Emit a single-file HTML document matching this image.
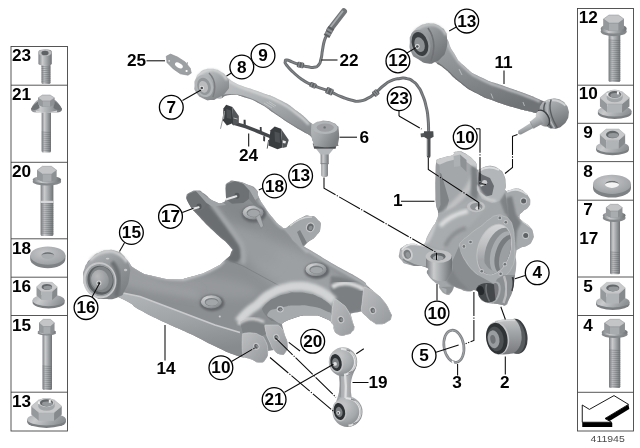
<!DOCTYPE html>
<html><head><meta charset="utf-8"><title>Rear axle parts diagram</title>
<style>
html,body{margin:0;padding:0;background:#fff;}
body{width:640px;height:448px;overflow:hidden;font-family:"Liberation Sans",sans-serif;}
svg{display:block;}
svg text{font-family:"Liberation Sans",sans-serif;}
.b{font-weight:bold;font-size:15.8px;fill:#000;}
</style></head><body>
<svg width="640" height="448" viewBox="0 0 640 448"><defs>
<linearGradient id="cylH" x1="0" x2="1" y1="0" y2="0">
 <stop offset="0" stop-color="#7d8083"/><stop offset="0.3" stop-color="#c9cbcd"/><stop offset="0.6" stop-color="#a4a7a9"/><stop offset="1" stop-color="#6f7275"/>
</linearGradient>
<linearGradient id="flG" x1="0" x2="1" y1="0" y2="0.3"><stop offset="0" stop-color="#a9acae"/><stop offset="0.35" stop-color="#c9cbcd"/><stop offset="1" stop-color="#8f9295"/></linearGradient>
<radialGradient id="washG" cx="0.4" cy="0.35" r="0.8">
 <stop offset="0" stop-color="#c4c6c8"/><stop offset="1" stop-color="#96999c"/>
</radialGradient>

<filter id="b05" x="-20%" y="-20%" width="140%" height="140%"><feGaussianBlur stdDeviation="0.5"/></filter>
<filter id="b1" x="-20%" y="-20%" width="140%" height="140%"><feGaussianBlur stdDeviation="1"/></filter>
<filter id="b15" x="-20%" y="-20%" width="140%" height="140%"><feGaussianBlur stdDeviation="1.5"/></filter>
<filter id="b3" x="-30%" y="-30%" width="160%" height="160%"><feGaussianBlur stdDeviation="3"/></filter>
<filter id="b4" x="-30%" y="-30%" width="160%" height="160%"><feGaussianBlur stdDeviation="4"/></filter>
<filter id="b6" x="-40%" y="-40%" width="180%" height="180%"><feGaussianBlur stdDeviation="6"/></filter>
<radialGradient id="bossG" cx="0.3" cy="0.25" r="0.95"><stop offset="0" stop-color="#d0d2d3"/><stop offset="0.55" stop-color="#a6a9ab"/><stop offset="1" stop-color="#74777a"/></radialGradient>
<linearGradient id="ffG" x1="0" y1="0" x2="0.25" y2="1"><stop offset="0" stop-color="#b4b7b9"/><stop offset="0.5" stop-color="#a1a4a7"/><stop offset="1" stop-color="#888b8e"/></linearGradient>
<linearGradient id="tabG" x1="0" y1="0" x2="1" y2="1"><stop offset="0" stop-color="#bcbec0"/><stop offset="1" stop-color="#96999c"/></linearGradient>
<linearGradient id="bushBody" x1="0" y1="0" x2="0.6" y2="1"><stop offset="0" stop-color="#b9bbbd"/><stop offset="0.5" stop-color="#96999c"/><stop offset="1" stop-color="#7d8083"/></linearGradient>
<radialGradient id="sleeveG" cx="0.4" cy="0.3" r="0.8"><stop offset="0" stop-color="#b7b9bb"/><stop offset="1" stop-color="#8a8d90"/></radialGradient>

<linearGradient id="uaG" x1="0" y1="0" x2="0.35" y2="1"><stop offset="0" stop-color="#c2c4c6"/><stop offset="0.45" stop-color="#aeb1b3"/><stop offset="1" stop-color="#8b8e91"/></linearGradient>
<linearGradient id="a11G" x1="0" y1="0" x2="0.3" y2="1"><stop offset="0" stop-color="#a6a9ab"/><stop offset="0.5" stop-color="#8b8e91"/><stop offset="1" stop-color="#707376"/></linearGradient>
<linearGradient id="ubush2G" x1="0" y1="0" x2="0.7" y2="1"><stop offset="0" stop-color="#b4b7b9"/><stop offset="0.5" stop-color="#8f9295"/><stop offset="1" stop-color="#707376"/></linearGradient>
<linearGradient id="ubushG" x1="0" y1="0" x2="0.7" y2="1"><stop offset="0" stop-color="#c9cbcd"/><stop offset="0.5" stop-color="#a6a9ab"/><stop offset="1" stop-color="#808386"/></linearGradient>
<linearGradient id="bjG" x1="0" y1="0" x2="1" y2="0.6"><stop offset="0" stop-color="#b9bbbd"/><stop offset="0.5" stop-color="#a3a6a8"/><stop offset="1" stop-color="#7b7e81"/></linearGradient>
<linearGradient id="bj11G" x1="0.2" y1="0" x2="0.6" y2="1"><stop offset="0" stop-color="#b7b9bb"/><stop offset="0.45" stop-color="#96999c"/><stop offset="1" stop-color="#6f7275"/></linearGradient>
<radialGradient id="eyeG" cx="0.35" cy="0.3" r="0.8"><stop offset="0" stop-color="#c6c8ca"/><stop offset="0.6" stop-color="#a6a9ab"/><stop offset="1" stop-color="#7d8083"/></radialGradient>
<linearGradient id="studG" x1="0" y1="0" x2="0.45" y2="1"><stop offset="0" stop-color="#d9dadb"/><stop offset="0.5" stop-color="#b1b4b6"/><stop offset="1" stop-color="#808386"/></linearGradient>
<linearGradient id="boreG" x1="0" y1="0" x2="0.2" y2="1"><stop offset="0" stop-color="#d6d8d9"/><stop offset="0.45" stop-color="#c0c2c4"/><stop offset="1" stop-color="#8f9295"/></linearGradient>
<linearGradient id="linkG" x1="0" y1="0" x2="1" y2="0"><stop offset="0" stop-color="#9a9da0"/><stop offset="0.5" stop-color="#b9bbbd"/><stop offset="1" stop-color="#808386"/></linearGradient>
<linearGradient id="b2G" x1="0" y1="0" x2="0" y2="1"><stop offset="0" stop-color="#c3c5c7"/><stop offset="0.35" stop-color="#a4a7a9"/><stop offset="1" stop-color="#77797c"/></linearGradient>
</defs><rect width="640" height="448" fill="#fff"/><g fill="none" stroke="#444" stroke-width="0.9"><rect x="11" y="46.5" width="56.5" height="384.5"/><line x1="11" x2="67.5" y1="85.2" y2="85.2"/><line x1="11" x2="67.5" y1="162.3" y2="162.3"/><line x1="11" x2="67.5" y1="238.8" y2="238.8"/><line x1="11" x2="67.5" y1="277.2" y2="277.2"/><line x1="11" x2="67.5" y1="315.5" y2="315.5"/><line x1="11" x2="67.5" y1="392.2" y2="392.2"/><rect x="577.5" y="8.5" width="56" height="422.5"/><line x1="577.5" x2="633.5" y1="85.2" y2="85.2"/><line x1="577.5" x2="633.5" y1="123.3" y2="123.3"/><line x1="577.5" x2="633.5" y1="161.6" y2="161.6"/><line x1="577.5" x2="633.5" y1="200.2" y2="200.2"/><line x1="577.5" x2="633.5" y1="277" y2="277"/><line x1="577.5" x2="633.5" y1="315.5" y2="315.5"/><line x1="577.5" x2="633.5" y1="392.3" y2="392.3"/></g><clipPath id="armClip"><path d="M85.00,276.00 C84.67,269.00 83.67,272.17 86.00,266.00 C88.33,259.83 87.33,262.07 92.00,257.50 C96.67,252.93 94.67,254.63 100.00,252.30 C105.33,249.97 102.33,250.83 108.00,250.50 C113.67,250.17 112.00,249.80 117.00,251.30 C122.00,252.80 119.50,251.93 123.00,255.00 C126.50,258.07 122.67,255.40 127.50,260.50 C132.33,265.60 128.33,264.97 137.50,270.30 C146.67,275.63 142.50,273.60 155.00,276.50 C167.50,279.40 162.67,279.00 175.00,279.00 C187.33,279.00 179.50,279.92 192.00,276.50 C204.50,273.08 201.50,274.25 212.50,268.75 C223.50,263.25 218.83,265.42 225.00,260.00 C231.17,254.58 229.50,257.17 231.00,252.50 C232.50,247.83 234.83,252.67 229.50,246.00 C224.17,239.33 224.83,242.00 215.00,232.50 C205.17,223.00 208.67,227.00 200.00,217.50 C191.33,208.00 193.50,211.17 189.00,204.00 C184.50,196.83 186.50,196.00 186.50,196.00 C186.50,196.00 185.83,194.33 189.50,192.50 C193.17,190.67 192.67,190.17 197.50,190.50 C202.33,190.83 198.58,190.00 204.00,193.50 C209.42,197.00 207.42,198.00 213.75,201.00 C220.08,204.00 218.92,203.83 223.00,202.50 C227.08,201.17 226.00,197.00 226.00,197.00 C226.00,197.00 225.50,185.00 225.50,185.00 C225.50,185.00 225.83,183.33 229.00,182.00 C232.17,180.67 228.83,180.17 235.00,181.00 C241.17,181.83 240.42,181.67 247.50,184.50 C254.58,187.33 252.50,185.33 256.25,189.50 C260.00,193.67 255.83,191.00 258.75,197.00 C261.67,203.00 260.42,200.67 265.00,207.50 C269.58,214.33 267.50,211.50 272.50,217.50 C277.50,223.50 275.50,222.00 280.00,225.50 C284.50,229.00 282.67,228.17 286.00,228.00 C289.33,227.83 285.00,228.33 290.00,225.00 C295.00,221.67 294.33,221.00 301.00,218.00 C307.67,215.00 304.50,215.50 310.00,216.00 C315.50,216.50 314.00,215.83 317.50,219.50 C321.00,223.17 321.00,221.50 320.50,227.00 C320.00,232.50 320.33,230.83 316.00,236.00 C311.67,241.17 311.50,238.83 307.50,242.50 C303.50,246.17 304.00,247.00 304.00,247.00 C304.00,247.00 299.67,244.00 310.00,250.00 C320.33,256.00 318.33,255.33 335.00,265.00 C351.67,274.67 349.17,272.00 360.00,279.00 C370.83,286.00 362.50,281.50 367.50,286.00 C372.50,290.50 369.57,287.50 375.00,292.50 C380.43,297.50 378.70,294.50 383.80,301.00 C388.90,307.50 387.77,306.67 390.30,312.00 C392.83,317.33 392.17,313.83 391.40,317.00 C390.63,320.17 391.97,319.07 388.00,321.50 C384.03,323.93 384.57,324.13 379.50,324.30 C374.43,324.47 377.20,324.57 372.80,322.00 C368.40,319.43 370.07,320.10 366.30,316.60 C362.53,313.10 361.50,311.50 361.50,311.50 C361.50,311.50 350.50,313.50 350.50,313.50 C350.50,313.50 351.83,318.27 353.10,323.10 C354.37,327.93 354.60,325.20 354.30,328.00 C354.00,330.80 354.47,329.30 352.20,331.50 C349.93,333.70 352.23,333.57 347.50,334.60 C342.77,335.63 342.70,337.13 338.00,334.60 C333.30,332.07 333.40,327.00 333.40,327.00 C333.40,327.00 335.30,326.87 332.50,324.00 C329.70,321.13 332.50,321.20 325.00,318.40 C317.50,315.60 320.63,315.60 310.00,315.60 C299.37,315.60 302.47,315.60 293.10,318.40 C283.73,321.20 281.90,324.00 281.90,324.00 C281.90,324.00 282.83,327.82 284.70,334.40 C286.57,340.98 287.20,337.82 287.50,343.75 C287.80,349.68 288.10,348.62 285.60,352.20 C283.10,355.78 283.87,355.23 280.00,354.50 C276.13,353.77 274.00,350.00 274.00,350.00 C274.00,350.00 268.00,351.00 268.00,351.00 C268.00,351.00 268.87,354.92 266.00,358.75 C263.13,362.58 264.73,362.42 259.40,362.50 C254.07,362.58 258.13,361.50 250.00,359.00 C241.87,356.50 246.67,359.25 235.00,355.00 C223.33,350.75 230.00,353.33 215.00,346.25 C200.00,339.17 206.67,341.67 190.00,333.75 C173.33,325.83 181.67,330.42 165.00,322.50 C148.33,314.58 151.67,316.50 140.00,310.00 C128.33,303.50 137.33,307.33 130.00,303.00 C122.67,298.67 118.00,297.00 118.00,297.00 C118.00,297.00 113.00,299.33 105.00,299.00 C97.00,298.67 100.00,300.00 94.00,296.00 C88.00,292.00 90.00,293.67 87.00,287.00 C84.00,280.33 85.33,283.00 85.00,276.00 Z"/></clipPath><path d="M85.00,276.00 C84.67,269.00 83.67,272.17 86.00,266.00 C88.33,259.83 87.33,262.07 92.00,257.50 C96.67,252.93 94.67,254.63 100.00,252.30 C105.33,249.97 102.33,250.83 108.00,250.50 C113.67,250.17 112.00,249.80 117.00,251.30 C122.00,252.80 119.50,251.93 123.00,255.00 C126.50,258.07 122.67,255.40 127.50,260.50 C132.33,265.60 128.33,264.97 137.50,270.30 C146.67,275.63 142.50,273.60 155.00,276.50 C167.50,279.40 162.67,279.00 175.00,279.00 C187.33,279.00 179.50,279.92 192.00,276.50 C204.50,273.08 201.50,274.25 212.50,268.75 C223.50,263.25 218.83,265.42 225.00,260.00 C231.17,254.58 229.50,257.17 231.00,252.50 C232.50,247.83 234.83,252.67 229.50,246.00 C224.17,239.33 224.83,242.00 215.00,232.50 C205.17,223.00 208.67,227.00 200.00,217.50 C191.33,208.00 193.50,211.17 189.00,204.00 C184.50,196.83 186.50,196.00 186.50,196.00 C186.50,196.00 185.83,194.33 189.50,192.50 C193.17,190.67 192.67,190.17 197.50,190.50 C202.33,190.83 198.58,190.00 204.00,193.50 C209.42,197.00 207.42,198.00 213.75,201.00 C220.08,204.00 218.92,203.83 223.00,202.50 C227.08,201.17 226.00,197.00 226.00,197.00 C226.00,197.00 225.50,185.00 225.50,185.00 C225.50,185.00 225.83,183.33 229.00,182.00 C232.17,180.67 228.83,180.17 235.00,181.00 C241.17,181.83 240.42,181.67 247.50,184.50 C254.58,187.33 252.50,185.33 256.25,189.50 C260.00,193.67 255.83,191.00 258.75,197.00 C261.67,203.00 260.42,200.67 265.00,207.50 C269.58,214.33 267.50,211.50 272.50,217.50 C277.50,223.50 275.50,222.00 280.00,225.50 C284.50,229.00 282.67,228.17 286.00,228.00 C289.33,227.83 285.00,228.33 290.00,225.00 C295.00,221.67 294.33,221.00 301.00,218.00 C307.67,215.00 304.50,215.50 310.00,216.00 C315.50,216.50 314.00,215.83 317.50,219.50 C321.00,223.17 321.00,221.50 320.50,227.00 C320.00,232.50 320.33,230.83 316.00,236.00 C311.67,241.17 311.50,238.83 307.50,242.50 C303.50,246.17 304.00,247.00 304.00,247.00 C304.00,247.00 299.67,244.00 310.00,250.00 C320.33,256.00 318.33,255.33 335.00,265.00 C351.67,274.67 349.17,272.00 360.00,279.00 C370.83,286.00 362.50,281.50 367.50,286.00 C372.50,290.50 369.57,287.50 375.00,292.50 C380.43,297.50 378.70,294.50 383.80,301.00 C388.90,307.50 387.77,306.67 390.30,312.00 C392.83,317.33 392.17,313.83 391.40,317.00 C390.63,320.17 391.97,319.07 388.00,321.50 C384.03,323.93 384.57,324.13 379.50,324.30 C374.43,324.47 377.20,324.57 372.80,322.00 C368.40,319.43 370.07,320.10 366.30,316.60 C362.53,313.10 361.50,311.50 361.50,311.50 C361.50,311.50 350.50,313.50 350.50,313.50 C350.50,313.50 351.83,318.27 353.10,323.10 C354.37,327.93 354.60,325.20 354.30,328.00 C354.00,330.80 354.47,329.30 352.20,331.50 C349.93,333.70 352.23,333.57 347.50,334.60 C342.77,335.63 342.70,337.13 338.00,334.60 C333.30,332.07 333.40,327.00 333.40,327.00 C333.40,327.00 335.30,326.87 332.50,324.00 C329.70,321.13 332.50,321.20 325.00,318.40 C317.50,315.60 320.63,315.60 310.00,315.60 C299.37,315.60 302.47,315.60 293.10,318.40 C283.73,321.20 281.90,324.00 281.90,324.00 C281.90,324.00 282.83,327.82 284.70,334.40 C286.57,340.98 287.20,337.82 287.50,343.75 C287.80,349.68 288.10,348.62 285.60,352.20 C283.10,355.78 283.87,355.23 280.00,354.50 C276.13,353.77 274.00,350.00 274.00,350.00 C274.00,350.00 268.00,351.00 268.00,351.00 C268.00,351.00 268.87,354.92 266.00,358.75 C263.13,362.58 264.73,362.42 259.40,362.50 C254.07,362.58 258.13,361.50 250.00,359.00 C241.87,356.50 246.67,359.25 235.00,355.00 C223.33,350.75 230.00,353.33 215.00,346.25 C200.00,339.17 206.67,341.67 190.00,333.75 C173.33,325.83 181.67,330.42 165.00,322.50 C148.33,314.58 151.67,316.50 140.00,310.00 C128.33,303.50 137.33,307.33 130.00,303.00 C122.67,298.67 118.00,297.00 118.00,297.00 C118.00,297.00 113.00,299.33 105.00,299.00 C97.00,298.67 100.00,300.00 94.00,296.00 C88.00,292.00 90.00,293.67 87.00,287.00 C84.00,280.33 85.33,283.00 85.00,276.00 Z" fill="#8c8f92"/><g clip-path="url(#armClip)"><ellipse cx="300" cy="275" rx="55" ry="22" transform="rotate(28 300 275)" fill="#9da0a3" filter="url(#b6)"/><ellipse cx="252" cy="245" rx="30" ry="14" transform="rotate(35 252 245)" fill="#999c9f" filter="url(#b6)"/><ellipse cx="215" cy="287" rx="45" ry="10" transform="rotate(8 215 287)" fill="#96999c" filter="url(#b4)"/><ellipse cx="240" cy="212" rx="24" ry="9" transform="rotate(35 240 212)" fill="#85888b" filter="url(#b4)"/><path d="M189.00,204.00 C189.67,211.17 191.33,208.00 200.00,217.50 C208.67,227.00 205.17,223.00 215.00,232.50 C224.83,242.00 224.00,239.33 229.50,246.00 C235.00,252.67 232.00,248.50 231.50,252.50 C231.00,256.50 227.50,254.83 228.00,258.00 C228.50,261.17 229.33,261.33 233.00,262.00 C236.67,262.67 236.33,263.00 239.00,260.00 C241.67,257.00 241.17,258.67 241.00,253.00 C240.83,247.33 243.83,252.67 238.50,243.00 C233.17,233.33 234.50,237.50 225.00,224.00 C215.50,210.50 219.00,211.83 210.00,202.50 C201.00,193.17 205.00,195.50 198.00,196.00 C191.00,196.50 188.33,196.83 189.00,204.00 Z" fill="#6b6e71" filter="url(#b1)"/><path d="M212,204 Q228,224 241.5,244 Q245,254 243,264" fill="none" stroke="#a3a6a9" stroke-width="5" filter="url(#b15)"/><path d="M259.00,199.00 C261.17,202.17 260.83,202.00 265.50,208.50 C270.17,215.00 268.00,212.50 273.00,218.50 C278.00,224.50 275.83,222.67 280.50,226.50 C285.17,230.33 279.17,222.50 287.00,230.00 C294.83,237.50 296.33,241.67 304.00,249.00 C311.67,256.33 299.67,246.00 310.00,252.00 C320.33,258.00 318.33,257.33 335.00,267.00 C351.67,276.67 349.33,274.33 360.00,281.00 C370.67,287.67 364.67,285.00 367.00,287.00" fill="none" stroke="#b4b7b9" stroke-width="2.6" filter="url(#b1)"/><path d="M127.50,260.50 C130.83,263.77 128.33,264.97 137.50,270.30 C146.67,275.63 142.50,273.60 155.00,276.50 C167.50,279.40 162.67,279.00 175.00,279.00 C187.33,279.00 179.50,279.92 192.00,276.50 C204.50,273.08 201.83,274.08 212.50,268.75 C223.17,263.42 220.17,263.25 224.00,260.50" fill="none" stroke="#bcbec0" stroke-width="4" filter="url(#b1)"/><path d="M118.00,292.00 L140.00,296.50 L165.00,306.00 L190.00,315.50 L215.00,325.00 L240.00,332.50 L243.00,334.00 L243.00,358.00 L235.00,356.00 L215.00,347.00 L190.00,334.50 L165.00,323.50 L140.00,311.00 L128.00,303.00 L118.00,298.00 Z" fill="url(#ffG)"/><path d="M118,292 L140,296.5 L165,306 L190,315.5 L215,325 L240,332.5" fill="none" stroke="#c9cbcd" stroke-width="1.6" filter="url(#b05)"/><path d="M127,262 L160,279 L200,290 L200,300 L150,292 L122,285 Z" fill="#9b9ea1" filter="url(#b3)"/><path d="M224,258 L243,266 L300,297" fill="none" stroke="#74777a" stroke-width="0.6"/><path d="M331,276 Q350,277 364,287 L363,310 L350,313 L335,302 Q328,290 331,276 Z" fill="#7c7f82" filter="url(#b1)"/><path d="M332,287 Q346,278.5 364,289.5" fill="none" stroke="#d6d8d9" stroke-width="4.5" filter="url(#b1)"/><path d="M238.50,322.00 C241.33,318.83 240.67,318.33 247.00,312.50 C253.33,306.67 251.83,309.23 257.50,304.50 C263.17,299.77 258.37,302.53 264.00,298.30 C269.63,294.07 267.40,295.23 274.40,291.80 C281.40,288.37 277.50,289.87 285.00,288.00 C292.50,286.13 288.90,286.47 296.90,286.20 C304.90,285.93 301.50,285.63 309.00,287.20 C316.50,288.77 313.40,288.13 319.40,290.90 C325.40,293.67 322.13,292.13 327.00,295.50 C331.87,298.87 331.67,299.17 334.00,301.00" fill="none" stroke="#d2d4d5" stroke-width="9" filter="url(#b15)"/><path d="M262.00,309.00 C262.00,309.00 263.33,305.87 268.00,302.00 C272.67,298.13 270.00,300.07 276.00,297.40 C282.00,294.73 279.00,295.60 286.00,294.00 C293.00,292.40 289.67,292.73 297.00,292.60 C304.33,292.47 301.17,292.33 308.00,293.60 C314.83,294.87 311.83,294.07 317.50,296.40 C323.17,298.73 320.33,297.23 325.00,300.60 C329.67,303.97 331.50,306.50 331.50,306.50 C331.50,306.50 333.40,327.00 333.40,327.00 C333.40,327.00 335.30,326.87 332.50,324.00 C329.70,321.13 332.50,321.20 325.00,318.40 C317.50,315.60 320.63,315.60 310.00,315.60 C299.37,315.60 302.47,315.60 293.10,318.40 C283.73,321.20 281.90,324.00 281.90,324.00 C281.90,324.00 280.63,324.00 276.00,322.00 C271.37,320.00 272.67,322.33 268.00,318.00 C263.33,313.67 262.00,309.00 262.00,309.00 Z" fill="#7f8285" filter="url(#b05)"/><path d="M268.00,313.00 C270.67,308.83 272.33,310.00 282.00,307.50 C291.67,305.00 287.00,305.83 297.00,305.50 C307.00,305.17 302.33,304.67 312.00,306.50 C321.67,308.33 319.33,307.83 326.00,311.00 C332.67,314.17 329.53,310.67 332.00,316.00 C334.47,321.33 333.40,327.00 333.40,327.00 C333.40,327.00 335.30,326.87 332.50,324.00 C329.70,321.13 332.50,321.20 325.00,318.40 C317.50,315.60 320.63,315.60 310.00,315.60 C299.37,315.60 302.47,315.60 293.10,318.40 C283.73,321.20 281.90,324.00 281.90,324.00 C281.90,324.00 278.63,323.67 274.00,320.00 C269.37,316.33 265.33,317.17 268.00,313.00 Z" fill="#a7aaac"/><g transform="rotate(0 280.2 309.3)"><ellipse cx="280.2" cy="309.3" rx="3.5" ry="3.3" fill="#c3c5c7"/><ellipse cx="280.2" cy="309.3" rx="2.3" ry="2.1" fill="#66696c"/><ellipse cx="280.7" cy="309.8" rx="1.38" ry="1.26" fill="#8d9093"/></g><path d="M334.40,298.75 C334.40,298.75 336.63,299.25 341.00,303.00 C345.37,306.75 343.47,303.30 347.50,310.00 C351.53,316.70 350.83,317.10 353.10,323.10 C355.37,329.10 354.60,325.20 354.30,328.00 C354.00,330.80 354.47,329.30 352.20,331.50 C349.93,333.70 352.23,333.57 347.50,334.60 C342.77,335.63 342.70,337.13 338.00,334.60 C333.30,332.07 335.47,333.53 333.40,327.00 C331.33,320.47 331.47,324.42 331.80,315.00 C332.13,305.58 334.40,298.75 334.40,298.75 Z" fill="url(#tabG)" stroke="#d0d2d3" stroke-width="0.7"/><g transform="rotate(-20 340.9 319.6)"><ellipse cx="340.9" cy="319.6" rx="3.4000000000000004" ry="3.8" fill="#c3c5c7"/><ellipse cx="340.9" cy="319.6" rx="2.2" ry="2.6" fill="#66696c"/><ellipse cx="341.4" cy="320.1" rx="1.32" ry="1.56" fill="#8d9093"/></g><path d="M364.00,287.00 C364.00,287.00 368.40,287.83 375.00,292.50 C381.60,297.17 378.70,294.50 383.80,301.00 C388.90,307.50 387.77,306.67 390.30,312.00 C392.83,317.33 392.17,313.83 391.40,317.00 C390.63,320.17 391.97,319.07 388.00,321.50 C384.03,323.93 384.57,324.13 379.50,324.30 C374.43,324.47 377.20,324.57 372.80,322.00 C368.40,319.43 369.93,319.87 366.30,316.60 C362.67,313.33 363.17,317.73 361.90,312.20 C360.63,306.67 361.80,308.40 362.50,300.00 C363.20,291.60 364.00,287.00 364.00,287.00 Z" fill="url(#tabG)" stroke="#d0d2d3" stroke-width="0.7"/><g transform="rotate(-20 372.8 310.4)"><ellipse cx="372.8" cy="310.4" rx="3.4000000000000004" ry="3.8" fill="#c3c5c7"/><ellipse cx="372.8" cy="310.4" rx="2.2" ry="2.6" fill="#66696c"/><ellipse cx="373.3" cy="310.9" rx="1.32" ry="1.56" fill="#8d9093"/></g><path d="M278.10,325.00 C278.10,325.00 279.80,325.87 282.00,329.00 C284.20,332.13 282.87,329.48 284.70,334.40 C286.53,339.32 287.20,337.82 287.50,343.75 C287.80,349.68 288.10,348.62 285.60,352.20 C283.10,355.78 283.87,355.23 280.00,354.50 C276.13,353.77 277.33,354.00 274.00,350.00 C270.67,346.00 272.67,348.17 270.00,342.50 C267.33,336.83 267.67,338.83 266.00,333.00 C264.33,327.17 265.00,325.00 265.00,325.00 C265.00,325.00 278.10,325.00 278.10,325.00 Z" fill="url(#tabG)" stroke="#cfd1d2" stroke-width="0.6"/><g transform="rotate(-25 276.3 337.4)"><ellipse cx="276.3" cy="337.4" rx="3.2" ry="3.5999999999999996" fill="#c3c5c7"/><ellipse cx="276.3" cy="337.4" rx="2.0" ry="2.4" fill="#66696c"/><ellipse cx="276.8" cy="337.9" rx="1.2" ry="1.44" fill="#8d9093"/></g><path d="M240,322 Q250,315 263,322 L266,334 L262,336 Q252,330 243,334 Z" fill="#7f8285" filter="url(#b05)"/><path d="M238,324 Q250,314.5 264,322" fill="none" stroke="#cdcfd0" stroke-width="3" filter="url(#b1)"/><path d="M242.50,333.75 C242.50,333.75 246.17,332.42 252.00,333.00 C257.83,333.58 255.67,333.17 260.00,335.50 C264.33,337.83 262.40,334.75 265.00,340.00 C267.60,345.25 267.47,345.00 267.80,351.25 C268.13,357.50 268.80,355.00 266.00,358.75 C263.20,362.50 264.73,362.42 259.40,362.50 C254.07,362.58 254.80,360.67 250.00,359.00 C245.20,357.33 247.50,359.67 245.00,357.50 C242.50,355.33 243.33,360.42 242.50,352.50 C241.67,344.58 242.50,333.75 242.50,333.75 Z" fill="url(#tabG)" stroke="#cfd1d2" stroke-width="0.6"/><g transform="rotate(-25 256.3 346.3)"><ellipse cx="256.3" cy="346.3" rx="3.2" ry="3.5999999999999996" fill="#c3c5c7"/><ellipse cx="256.3" cy="346.3" rx="2.0" ry="2.4" fill="#66696c"/><ellipse cx="256.8" cy="346.8" rx="1.2" ry="1.44" fill="#8d9093"/></g><ellipse cx="253.9" cy="213.79999999999998" rx="12.200000000000001" ry="8.6" fill="#63666a" filter="url(#b1)"/><ellipse cx="253.1" cy="212.6" rx="10.4" ry="7" fill="url(#bossG)"/><ellipse cx="253.4" cy="212.79999999999998" rx="6.864000000000001" ry="4.34" fill="#7e8184"/><ellipse cx="253.7" cy="213.29999999999998" rx="6.032" ry="3.5" fill="#a3a6a8"/><path d="M255.8,217.5 L260.8,228.3 L263.6,226 L259.8,214 Z" fill="#a9acae" stroke="#77797c" stroke-width="0.5"/><ellipse cx="212.10000000000002" cy="303.0" rx="12.3" ry="8.2" fill="#63666a" filter="url(#b1)"/><ellipse cx="211.3" cy="301.8" rx="10.5" ry="6.6" fill="url(#bossG)"/><ellipse cx="211.60000000000002" cy="302.0" rx="6.930000000000001" ry="4.092" fill="#7e8184"/><ellipse cx="211.9" cy="302.5" rx="6.09" ry="3.3" fill="#a3a6a8"/><ellipse cx="316.8" cy="270.7" rx="12.3" ry="8.2" fill="#63666a" filter="url(#b1)"/><ellipse cx="316" cy="269.5" rx="10.5" ry="6.6" fill="url(#bossG)"/><ellipse cx="316.3" cy="269.7" rx="6.930000000000001" ry="4.092" fill="#7e8184"/><ellipse cx="316.6" cy="270.2" rx="6.09" ry="3.3" fill="#a3a6a8"/><circle cx="219.8" cy="316.5" r="1.1" fill="#c9cbcd"/><path d="M186.3,198.2 L188.4,194 L195.5,191.2 L201.1,192.6 L207.4,198.2 L206,204 L203.9,208.75 L198.3,211.6 L190.5,208.75 Z" fill="#6e7174"/><path d="M195.5,190.5 L201.1,192 L207.4,197.6 L214,201 L223,202.5 L226,205 L212,206.5 L206.5,203 Z" fill="#a0a3a6" filter="url(#b05)"/><ellipse cx="199" cy="206.6" rx="2.6" ry="3" fill="#55585b"/><path d="M225,188.4 L227.1,184.1 L234.9,181.3 L243.3,183.4 L249.6,190.5 L248.9,198.9 L243.3,203.1 L232,203.8 L225.7,198.9 Z" fill="#6e7174"/><path d="M234.9,180.6 L243.3,182.8 L252,186.5 L257.4,190.8 L259,197.5 L255,200 L249.6,190.5 L243.3,183.8 Z" fill="#a6a9ab" filter="url(#b05)"/><path d="M249.6,190.5 L255,200 L262,210 L255,206 L248.9,198.9 Z" fill="#808386" filter="url(#b05)"/><ellipse cx="237" cy="195.8" rx="2.6" ry="3" fill="#55585b"/><path d="M286.00,228.00 C286.00,224.33 285.00,228.33 290.00,225.00 C295.00,221.67 294.33,221.00 301.00,218.00 C307.67,215.00 304.50,215.50 310.00,216.00 C315.50,216.50 314.00,215.83 317.50,219.50 C321.00,223.17 321.00,221.50 320.50,227.00 C320.00,232.50 320.33,230.83 316.00,236.00 C311.67,241.17 311.50,238.83 307.50,242.50 C303.50,246.17 307.83,246.83 304.00,247.00 C300.17,247.17 300.67,246.67 296.00,243.00 C291.33,239.33 293.33,241.00 290.00,236.00 C286.67,231.00 286.00,231.67 286.00,228.00 Z" fill="#a4a7aa"/><path d="M290,226 Q300,216.5 312,217" fill="none" stroke="#cfd1d2" stroke-width="1.6" filter="url(#b05)"/><path d="M297,232 L303,246 L307,243 L300,230 Z" fill="#7d8083" filter="url(#b05)"/><g transform="rotate(20 310.3 227.3)"><ellipse cx="310.3" cy="227.3" rx="4.4" ry="5.0" fill="#c3c5c7"/><ellipse cx="310.3" cy="227.3" rx="3.2" ry="3.8" fill="#66696c"/><ellipse cx="310.8" cy="227.8" rx="1.92" ry="2.28" fill="#8d9093"/></g></g><path d="M192.3,209 L198.6,207.2" stroke="#e4e5e6" stroke-width="2.1" stroke-linecap="round"/><path d="M226.5,199.3 L236.3,196.3" stroke="#e4e5e6" stroke-width="2.1" stroke-linecap="round"/><path d="M83.30,277.00 C82.80,270.50 82.93,273.33 84.50,268.50 C86.07,263.67 84.08,267.00 88.00,262.50 C91.92,258.00 90.17,258.97 96.25,255.00 C102.33,251.03 99.58,251.70 106.25,250.60 C112.92,249.50 110.17,249.23 116.25,251.70 C122.33,254.17 120.33,253.57 124.50,258.00 C128.67,262.43 127.08,259.00 128.75,265.00 C130.42,271.00 130.75,267.67 129.50,276.00 C128.25,284.33 128.83,283.00 125.00,290.00 C121.17,297.00 124.67,294.00 118.00,297.00 C111.33,300.00 113.00,299.33 105.00,299.00 C97.00,298.67 100.33,299.67 94.00,296.00 C87.67,292.33 89.57,294.33 86.00,288.00 C82.43,281.67 83.80,283.50 83.30,277.00 Z" fill="url(#bushBody)"/><path d="M90,260 Q99,251 111,251.3 Q121,253 127,262" fill="none" stroke="#d4d6d7" stroke-width="2.6" filter="url(#b1)"/><path d="M112,262 Q123,275 116,296" fill="none" stroke="#6c6f72" stroke-width="4.5" filter="url(#b1)"/><ellipse cx="99.8" cy="280.3" rx="16.6" ry="18.2" transform="rotate(-12 99.8 280.3)" fill="#c6c8ca"/><ellipse cx="100.3" cy="280.2" rx="14.6" ry="16.2" transform="rotate(-12 100.3 280.2)" fill="#9a9da0"/><ellipse cx="100.5" cy="280.2" rx="13" ry="14.6" transform="rotate(-12 100.5 280.2)" fill="#5c5f62"/><ellipse cx="101.3" cy="279.4" rx="11.4" ry="13" transform="rotate(-12 101.3 279.4)" fill="#808386"/><ellipse cx="100" cy="279.8" rx="8.8" ry="10.2" transform="rotate(-12 100 279.8)" fill="url(#sleeveG)"/><circle cx="98.9" cy="283" r="2.5" fill="#d9dbdc"/><circle cx="98.9" cy="283" r="1.5" fill="#4d5053"/><ellipse cx="107.6" cy="258.6" rx="1.8" ry="0.9" fill="#c9cbcd"/><ellipse cx="125.6" cy="270" rx="1.7" ry="1.2" fill="#c3c5c7"/><clipPath id="knClip"><path d="M436.20,162.00 C437.00,156.77 434.97,160.97 437.90,159.30 C440.83,157.63 440.13,158.43 445.00,157.00 C449.87,155.57 449.70,156.50 452.50,155.00 C455.30,153.50 453.40,152.50 453.40,152.50 C453.40,152.50 456.03,151.27 459.40,151.30 C462.77,151.33 460.63,151.27 463.50,152.60 C466.37,153.93 464.80,153.03 468.00,155.30 C471.20,157.57 470.23,156.53 473.10,159.40 C475.97,162.27 475.30,160.70 476.60,163.90 C477.90,167.10 475.87,167.20 477.00,169.00 C478.13,170.80 477.87,169.87 480.00,169.30 C482.13,168.73 480.73,168.40 483.40,167.30 C486.07,166.20 485.13,166.43 488.00,166.00 C490.87,165.57 488.37,165.00 492.00,166.00 C495.63,167.00 494.90,166.00 498.90,169.00 C502.90,172.00 501.70,169.83 504.00,175.00 C506.30,180.17 505.30,179.33 505.80,184.50 C506.30,189.67 504.10,188.67 505.50,190.50 C506.90,192.33 506.47,190.63 510.00,190.00 C513.53,189.37 512.43,188.77 516.10,188.60 C519.77,188.43 518.13,188.27 521.00,189.50 C523.87,190.73 522.20,189.97 524.70,192.30 C527.20,194.63 526.63,193.27 528.50,196.50 C530.37,199.73 530.43,198.33 530.30,202.00 C530.17,205.67 530.53,204.33 528.10,207.50 C525.67,210.67 525.87,208.50 523.00,211.50 C520.13,214.50 519.50,213.17 519.50,216.50 C519.50,219.83 519.67,218.17 523.00,221.50 C526.33,224.83 526.07,222.50 529.50,226.50 C532.93,230.50 532.37,228.83 533.30,233.50 C534.23,238.17 534.23,236.50 532.30,240.50 C530.37,244.50 531.77,242.83 527.50,245.50 C523.23,248.17 523.33,245.67 519.50,248.50 C515.67,251.33 517.08,248.50 516.00,254.00 C514.92,259.50 516.72,257.00 516.25,265.00 C515.78,273.00 515.75,269.67 514.60,278.00 C513.45,286.33 514.67,282.83 512.80,290.00 C510.93,297.17 511.40,294.40 509.00,299.50 C506.60,304.60 508.60,303.60 505.60,305.30 C502.60,307.00 505.00,305.17 500.00,304.60 C495.00,304.03 495.93,304.53 490.60,303.60 C485.27,302.67 487.70,303.83 484.00,301.80 C480.30,299.77 482.07,301.27 479.50,297.50 C476.93,293.73 480.30,292.50 476.30,290.50 C472.30,288.50 472.93,292.00 467.50,291.50 C462.07,291.00 464.58,290.67 460.00,289.00 C455.42,287.33 453.75,286.50 453.75,286.50 C453.75,286.50 453.75,289.83 451.25,292.50 C448.75,295.17 450.00,295.67 446.25,294.50 C442.50,293.33 442.50,292.33 440.00,289.00 C437.50,285.67 440.42,286.67 438.75,284.50 C437.08,282.33 438.75,286.00 435.00,282.50 C431.25,279.00 430.42,279.00 427.50,274.00 C424.58,269.00 432.08,270.50 426.25,267.50 C420.42,264.50 418.33,267.50 410.00,265.00 C401.67,262.50 404.75,264.17 401.25,260.00 C397.75,255.83 398.67,257.08 399.50,252.50 C400.33,247.92 399.42,249.17 403.75,246.25 C408.08,243.33 406.25,244.17 412.50,243.75 C418.75,243.33 417.50,247.58 422.50,245.00 C427.50,242.42 424.33,241.67 427.50,236.00 C430.67,230.33 429.08,233.00 432.00,228.00 C434.92,223.00 434.25,226.17 436.25,221.00 C438.25,215.83 438.00,217.83 438.00,212.50 C438.00,207.17 437.08,211.67 436.25,205.00 C435.42,198.33 435.75,202.50 435.50,192.50 C435.25,182.50 435.27,185.17 435.50,175.00 C435.73,164.83 435.40,167.23 436.20,162.00 Z"/></clipPath><path d="M436.20,162.00 C437.00,156.77 434.97,160.97 437.90,159.30 C440.83,157.63 440.13,158.43 445.00,157.00 C449.87,155.57 449.70,156.50 452.50,155.00 C455.30,153.50 453.40,152.50 453.40,152.50 C453.40,152.50 456.03,151.27 459.40,151.30 C462.77,151.33 460.63,151.27 463.50,152.60 C466.37,153.93 464.80,153.03 468.00,155.30 C471.20,157.57 470.23,156.53 473.10,159.40 C475.97,162.27 475.30,160.70 476.60,163.90 C477.90,167.10 475.87,167.20 477.00,169.00 C478.13,170.80 477.87,169.87 480.00,169.30 C482.13,168.73 480.73,168.40 483.40,167.30 C486.07,166.20 485.13,166.43 488.00,166.00 C490.87,165.57 488.37,165.00 492.00,166.00 C495.63,167.00 494.90,166.00 498.90,169.00 C502.90,172.00 501.70,169.83 504.00,175.00 C506.30,180.17 505.30,179.33 505.80,184.50 C506.30,189.67 504.10,188.67 505.50,190.50 C506.90,192.33 506.47,190.63 510.00,190.00 C513.53,189.37 512.43,188.77 516.10,188.60 C519.77,188.43 518.13,188.27 521.00,189.50 C523.87,190.73 522.20,189.97 524.70,192.30 C527.20,194.63 526.63,193.27 528.50,196.50 C530.37,199.73 530.43,198.33 530.30,202.00 C530.17,205.67 530.53,204.33 528.10,207.50 C525.67,210.67 525.87,208.50 523.00,211.50 C520.13,214.50 519.50,213.17 519.50,216.50 C519.50,219.83 519.67,218.17 523.00,221.50 C526.33,224.83 526.07,222.50 529.50,226.50 C532.93,230.50 532.37,228.83 533.30,233.50 C534.23,238.17 534.23,236.50 532.30,240.50 C530.37,244.50 531.77,242.83 527.50,245.50 C523.23,248.17 523.33,245.67 519.50,248.50 C515.67,251.33 517.08,248.50 516.00,254.00 C514.92,259.50 516.72,257.00 516.25,265.00 C515.78,273.00 515.75,269.67 514.60,278.00 C513.45,286.33 514.67,282.83 512.80,290.00 C510.93,297.17 511.40,294.40 509.00,299.50 C506.60,304.60 508.60,303.60 505.60,305.30 C502.60,307.00 505.00,305.17 500.00,304.60 C495.00,304.03 495.93,304.53 490.60,303.60 C485.27,302.67 487.70,303.83 484.00,301.80 C480.30,299.77 482.07,301.27 479.50,297.50 C476.93,293.73 480.30,292.50 476.30,290.50 C472.30,288.50 472.93,292.00 467.50,291.50 C462.07,291.00 464.58,290.67 460.00,289.00 C455.42,287.33 453.75,286.50 453.75,286.50 C453.75,286.50 453.75,289.83 451.25,292.50 C448.75,295.17 450.00,295.67 446.25,294.50 C442.50,293.33 442.50,292.33 440.00,289.00 C437.50,285.67 440.42,286.67 438.75,284.50 C437.08,282.33 438.75,286.00 435.00,282.50 C431.25,279.00 430.42,279.00 427.50,274.00 C424.58,269.00 432.08,270.50 426.25,267.50 C420.42,264.50 418.33,267.50 410.00,265.00 C401.67,262.50 404.75,264.17 401.25,260.00 C397.75,255.83 398.67,257.08 399.50,252.50 C400.33,247.92 399.42,249.17 403.75,246.25 C408.08,243.33 406.25,244.17 412.50,243.75 C418.75,243.33 417.50,247.58 422.50,245.00 C427.50,242.42 424.33,241.67 427.50,236.00 C430.67,230.33 429.08,233.00 432.00,228.00 C434.92,223.00 434.25,226.17 436.25,221.00 C438.25,215.83 438.00,217.83 438.00,212.50 C438.00,207.17 437.08,211.67 436.25,205.00 C435.42,198.33 435.75,202.50 435.50,192.50 C435.25,182.50 435.27,185.17 435.50,175.00 C435.73,164.83 435.40,167.23 436.20,162.00 Z" fill="#a3a6a8"/><g clip-path="url(#knClip)"><path d="M436,162 L476,164 L476,200 L460,210 L438,214 Z" fill="#a4a7a9"/><path d="M435,163 L438,159 L445,157 L452.5,155 L453.4,152.5 L459.4,151.3 L468,155.3 L473.1,159.4 L477,164 L477,170 L472,166 L466,161.5 L460,158.5 L455,159.5 L447,161.5 L440,164.5 Z" fill="#c9cbcd" filter="url(#b05)"/><path d="M453.6,156 L460,154.6 L460.6,166 L454,167 Z" fill="#aeb1b3"/><path d="M460,154.6 L466.5,160 L466.5,172 L460.6,166 Z" fill="#8f9295"/><path d="M437,170 L441.5,174 L449,200 L446,212 L438,213 L436,205 Z" fill="#808386" filter="url(#b05)"/><path d="M436,162 L439.5,166 L440.5,205 L437,212 L435,200 Z" fill="#999c9f" filter="url(#b05)"/><path d="M476,172 Q470,190 455,203 Q445,212 440,224" fill="none" stroke="#bfc1c3" stroke-width="6" filter="url(#b15)"/><path d="M471,166 L477,168 L479,186 L477,200 L471,196 Z" fill="#7d8083" filter="url(#b1)"/><path d="M478,170 L483.4,167.3 L492,166 L498.9,169 L504,175 L505.8,184.5 L505.5,192 L500,201 L492,203 L482,199 L477,190 Z" fill="#b3b6b8"/><path d="M479,171 Q488,164.5 499,170" fill="none" stroke="#dadcdd" stroke-width="1.8" filter="url(#b05)"/><path d="M478.5,172 L483,175 L490,178 L494,186 L492,195 L486,196.5 L480,192 L477.5,184 Z" fill="#696c6f" filter="url(#b05)"/><path d="M478,186 Q480,196 489,199.5 L496,201" fill="none" stroke="#d2d4d5" stroke-width="2" filter="url(#b1)"/><ellipse cx="484.6" cy="182.3" rx="2.6" ry="2.2" fill="#c9cbcd"/><path d="M480.5,186 L485,184" stroke="#d9dbdc" stroke-width="1.6"/><path d="M500,201 L506,192 L509,206 L511,216 L505,214 Z" fill="#808386" filter="url(#b1)"/><path d="M438,213 Q450,210 462,203 L470,200 L488,206 L470,226 L452,240 L441,250 L426,244 L433,228 Z" fill="#a9acae" filter="url(#b1)"/><path d="M437.5,214 Q437,230 428.5,243 L422.5,245 L431,229 Z" fill="#c6c8ca" filter="url(#b1)"/><path d="M440,226 Q450,215 468,211" fill="none" stroke="#dcdedf" stroke-width="4.5" filter="url(#b15)"/><path d="M445,246 Q452,232 466,228" fill="none" stroke="#8a8d90" stroke-width="4" filter="url(#b15)"/><ellipse cx="476" cy="206.5" rx="9" ry="5.8" fill="#bfc1c3"/><ellipse cx="476.3" cy="206.8" rx="6.2" ry="3.8" fill="#909396"/><ellipse cx="478" cy="208.3" rx="2.6" ry="2" fill="#d9dbdc"/><path d="M505,190 L510,190 L516.1,188.6 L524.7,192.3 L530.3,202 L528.1,207.5 L523,211.5 L519.5,216.5 L523,221.5 L529.5,226.5 L533.3,233.5 L532.3,240.5 L527.5,245.5 L519.5,248.5 L512,240 L508,215 Z" fill="#a6a9ab"/><path d="M507,192 Q517,186.5 527,194.5" fill="none" stroke="#d7d9da" stroke-width="1.8" filter="url(#b05)"/><path d="M506,198 L512,196 L516,214 L521,223 L517,231 L515,250 L509,240 Z" fill="#7c7f82" filter="url(#b1)"/><path d="M519,216 L523,221.8 L530,227" fill="none" stroke="#cfd1d2" stroke-width="1.5" filter="url(#b05)"/><circle cx="523.6" cy="201" r="3.4" fill="#c8cacc"/><circle cx="523.6" cy="201" r="2.5" fill="#5f6265"/><circle cx="525.7" cy="235.5" r="3.4" fill="#c8cacc"/><circle cx="525.7" cy="235.5" r="2.5" fill="#5f6265"/><path d="M497.20,215.30 C502.20,214.30 500.00,215.07 504.00,216.50 C508.00,217.93 506.20,215.77 509.20,219.60 C512.20,223.43 511.27,221.40 513.00,228.00 C514.73,234.60 513.80,232.07 514.40,239.40 C515.00,246.73 514.80,243.13 514.80,250.00 C514.80,256.87 515.50,254.00 514.40,260.00 C513.30,266.00 513.80,263.42 511.50,268.00 C509.20,272.58 511.00,269.92 507.50,273.75 C504.00,277.58 505.58,276.08 501.00,279.50 C496.42,282.92 499.08,283.50 493.75,284.00 C488.42,284.50 490.72,284.42 485.00,281.00 C479.28,277.58 481.43,278.08 476.60,273.75 C471.77,269.42 473.95,272.02 470.50,268.00 C467.05,263.98 469.25,266.37 466.25,261.70 C463.25,257.03 463.78,259.15 461.50,254.00 C459.22,248.85 459.07,250.75 459.40,246.25 C459.73,241.75 459.63,243.92 462.50,240.50 C465.37,237.08 464.00,239.33 468.00,236.00 C472.00,232.67 469.93,233.97 474.50,230.50 C479.07,227.03 476.87,229.27 481.70,225.60 C486.53,221.93 483.83,222.93 489.00,219.50 C494.17,216.07 492.20,216.30 497.20,215.30 Z" fill="#a8abad"/><path d="M497.20,215.30 C502.20,214.30 500.00,215.07 504.00,216.50 C508.00,217.93 506.20,215.77 509.20,219.60 C512.20,223.43 511.27,221.40 513.00,228.00 C514.73,234.60 513.80,232.07 514.40,239.40 C515.00,246.73 514.80,243.13 514.80,250.00 C514.80,256.87 515.50,254.00 514.40,260.00 C513.30,266.00 513.80,263.42 511.50,268.00 C509.20,272.58 511.00,269.92 507.50,273.75 C504.00,277.58 505.58,276.08 501.00,279.50 C496.42,282.92 499.08,283.50 493.75,284.00 C488.42,284.50 490.72,284.42 485.00,281.00 C479.28,277.58 481.43,278.08 476.60,273.75 C471.77,269.42 473.95,272.02 470.50,268.00 C467.05,263.98 469.25,266.37 466.25,261.70 C463.25,257.03 463.78,259.15 461.50,254.00 C459.22,248.85 459.07,250.75 459.40,246.25 C459.73,241.75 459.63,243.92 462.50,240.50 C465.37,237.08 464.00,239.33 468.00,236.00 C472.00,232.67 469.93,233.97 474.50,230.50 C479.07,227.03 476.87,229.27 481.70,225.60 C486.53,221.93 483.83,222.93 489.00,219.50 C494.17,216.07 492.20,216.30 497.20,215.30 Z" fill="none" stroke="#bfc1c3" stroke-width="0.7" filter="url(#b05)"/><path d="M459,246 Q462,262 476,274 L494,284 L490,292 L468,291 L454,286 L452,262 Z" fill="#8a8d90" filter="url(#b05)"/><clipPath id="boreClip"><ellipse cx="494.2" cy="249.5" rx="15.8" ry="25.5" transform="rotate(17 494.2 249.5)"/></clipPath><ellipse cx="494.2" cy="249.5" rx="16.8" ry="26.5" transform="rotate(17 494.2 249.5)" fill="#bfc1c3"/><ellipse cx="494.2" cy="249.5" rx="15.8" ry="25.5" transform="rotate(17 494.2 249.5)" fill="url(#boreG)"/><g clip-path="url(#boreClip)"><ellipse cx="500.5" cy="252" rx="15" ry="25" transform="rotate(17 500.5 252)" fill="#8c8f92"/><ellipse cx="503.5" cy="253" rx="12.5" ry="22.5" transform="rotate(17 503.5 253)" fill="#a9acae"/><ellipse cx="506.5" cy="254.5" rx="11" ry="20.5" transform="rotate(17 506.5 254.5)" fill="#797c7f"/><ellipse cx="509.5" cy="256" rx="9.5" ry="18.5" transform="rotate(17 509.5 256)" fill="#9c9fa2"/><path d="M478,262 Q484,276 496,277 L496,272 Q487,270 482,258 Z" fill="#a3a6a8" filter="url(#b05)"/></g><circle cx="499.8" cy="217.9" r="2.2" fill="#c3c5c7"/><circle cx="499.8" cy="217.9" r="1.3" fill="#707376"/><circle cx="505.8" cy="222.2" r="2.2" fill="#c3c5c7"/><circle cx="505.8" cy="222.2" r="1.3" fill="#707376"/><circle cx="470.5" cy="242" r="2.2" fill="#c3c5c7"/><circle cx="470.5" cy="242" r="1.3" fill="#707376"/><circle cx="463.9" cy="246.4" r="2.2" fill="#c3c5c7"/><circle cx="463.9" cy="246.4" r="1.3" fill="#707376"/><circle cx="504.9" cy="264.3" r="2.2" fill="#c3c5c7"/><circle cx="504.9" cy="264.3" r="1.3" fill="#707376"/><circle cx="500.6" cy="273.75" r="2.2" fill="#c3c5c7"/><circle cx="500.6" cy="273.75" r="1.3" fill="#707376"/><circle cx="481.7" cy="271.2" r="2.2" fill="#c3c5c7"/><circle cx="481.7" cy="271.2" r="1.3" fill="#707376"/><path d="M426,267.5 L410,265 L401.25,260 L399.5,252.5 L403.75,246.25 L412.5,243.75 L422.5,245 L440,250 L452,262 L445,275 Z" fill="#aeb1b3"/><path d="M402,250 Q406,244 414,244 L426,246" fill="none" stroke="#dddfe0" stroke-width="2" filter="url(#b05)"/><path d="M403,259 Q412,266 426,267.5" fill="none" stroke="#85888b" stroke-width="2" filter="url(#b05)"/><ellipse cx="407.3" cy="254.3" rx="5.4" ry="6.6" transform="rotate(-20 407.3 254.3)" fill="#cbcdce"/><ellipse cx="407.3" cy="254.3" rx="3.5" ry="4.5" transform="rotate(-20 407.3 254.3)" fill="#7a7d80"/><ellipse cx="408" cy="255" rx="2.2" ry="3" transform="rotate(-20 408 255)" fill="#94979a"/><path d="M426,257 L426,272 Q433,283 446,281 L452,272 L452,256 Z" fill="url(#cylH)"/><ellipse cx="438.6" cy="256.4" rx="13" ry="6.4" fill="#c0c2c4"/><ellipse cx="438" cy="256.6" rx="7.6" ry="3.9" fill="#696c6f"/><ellipse cx="438.2" cy="258" rx="5.4" ry="2.4" fill="#a0a3a6"/><path d="M436.6,255 L436.6,259" stroke="#e6e7e8" stroke-width="1.6"/><path d="M452,268 Q458,282 470,290 L453,287 L446,281 Z" fill="#808386" filter="url(#b1)"/><path d="M440,287 L453.75,286.5 L451.25,292.5 L446.25,294.5 Z" fill="#8f9295"/><path d="M440,287 L446.5,289 L446.25,294.5 Z" fill="#a9acae"/><path d="M497,279 L504,275 L515,275 L515,284 L512.8,291 L509,299.5 L505.6,305.6 L500,305 L494,303 L492,290 Z" fill="#8d9093"/><path d="M504,276 Q509,290 503.5,303" fill="none" stroke="#b9bbbd" stroke-width="2.4" filter="url(#b05)"/><path d="M512.6,277 Q514.6,284 512.2,291" fill="none" stroke="#3a3d40" stroke-width="2"/><ellipse cx="495" cy="292" rx="5.4" ry="10.6" transform="rotate(14 495 292)" fill="#a9acae"/><ellipse cx="493.6" cy="292.4" rx="4.6" ry="9.6" transform="rotate(14 493.6 292.4)" fill="#77797c"/><path d="M476,289 Q478,284.5 484,283.2 Q490,282.6 494,284.5 L495.5,300 Q491,303.6 485,302 Q479.5,299 476.6,293 Z" fill="#45484b"/><path d="M486.5,284 Q484.5,292 489.5,301.5" fill="none" stroke="#6f7275" stroke-width="1.6" filter="url(#b05)"/><ellipse cx="480.6" cy="290.6" rx="3.4" ry="4.6" transform="rotate(-15 480.6 290.6)" fill="#26292c"/></g><path d="M326.50,36.00 C325.77,37.67 325.63,36.33 324.30,41.00 C322.97,45.67 323.60,44.00 322.50,50.00 C321.40,56.00 322.33,54.00 321.00,59.00 C319.67,64.00 320.83,62.23 318.50,65.00 C316.17,67.77 317.50,66.70 314.00,67.30 C310.50,67.90 311.67,67.30 308.00,66.80 C304.33,66.30 304.67,66.13 303.00,65.80" fill="none" stroke="#6a6d70" stroke-width="3" stroke-linecap="round"/><path d="M326.50,36.00 C325.77,37.67 325.63,36.33 324.30,41.00 C322.97,45.67 323.60,44.00 322.50,50.00 C321.40,56.00 322.33,54.00 321.00,59.00 C319.67,64.00 320.83,62.23 318.50,65.00 C316.17,67.77 317.50,66.70 314.00,67.30 C310.50,67.90 311.67,67.30 308.00,66.80 C304.33,66.30 304.67,66.13 303.00,65.80" fill="none" stroke="#8d9093" stroke-width="0.8" stroke-linecap="round"/><path d="M298.00,64.20 C296.00,63.40 295.67,63.20 292.00,61.80 C288.33,60.40 289.23,60.10 287.00,60.00 C284.77,59.90 285.47,59.83 285.30,61.50 C285.13,63.17 283.93,61.50 286.50,65.00 C289.07,68.50 287.83,67.17 293.00,72.00 C298.17,76.83 296.33,75.50 302.00,79.50 C307.67,83.50 307.33,82.50 310.00,84.00" fill="none" stroke="#6a6d70" stroke-width="3" stroke-linecap="round"/><path d="M298.00,64.20 C296.00,63.40 295.67,63.20 292.00,61.80 C288.33,60.40 289.23,60.10 287.00,60.00 C284.77,59.90 285.47,59.83 285.30,61.50 C285.13,63.17 283.93,61.50 286.50,65.00 C289.07,68.50 287.83,67.17 293.00,72.00 C298.17,76.83 296.33,75.50 302.00,79.50 C307.67,83.50 307.33,82.50 310.00,84.00" fill="none" stroke="#8d9093" stroke-width="0.8" stroke-linecap="round"/><path d="M316.00,86.50 C318.00,87.20 318.17,87.33 322.00,88.60 C325.83,89.87 325.67,89.73 327.50,90.30" fill="none" stroke="#6a6d70" stroke-width="3" stroke-linecap="round"/><path d="M316.00,86.50 C318.00,87.20 318.17,87.33 322.00,88.60 C325.83,89.87 325.67,89.73 327.50,90.30" fill="none" stroke="#8d9093" stroke-width="0.8" stroke-linecap="round"/><path d="M333.00,92.80 C336.00,94.20 335.67,94.50 342.00,97.00 C348.33,99.50 346.00,98.97 352.00,100.30 C358.00,101.63 354.67,101.70 360.00,101.00 C365.33,100.30 363.23,100.60 368.00,98.20 C372.77,95.80 372.20,95.27 374.30,93.80" fill="none" stroke="#6a6d70" stroke-width="3" stroke-linecap="round"/><path d="M333.00,92.80 C336.00,94.20 335.67,94.50 342.00,97.00 C348.33,99.50 346.00,98.97 352.00,100.30 C358.00,101.63 354.67,101.70 360.00,101.00 C365.33,100.30 363.23,100.60 368.00,98.20 C372.77,95.80 372.20,95.27 374.30,93.80" fill="none" stroke="#8d9093" stroke-width="0.8" stroke-linecap="round"/><path d="M378.00,90.60 C380.33,88.57 380.33,87.93 385.00,84.50 C389.67,81.07 387.00,82.33 392.00,80.30 C397.00,78.27 395.00,78.97 400.00,78.40 C405.00,77.83 402.67,77.60 407.00,78.60 C411.33,79.60 409.33,78.77 413.00,81.40 C416.67,84.03 414.83,81.97 418.00,86.50 C421.17,91.03 419.83,88.50 422.50,95.00 C425.17,101.50 424.17,98.33 426.00,106.00 C427.83,113.67 427.13,109.67 428.00,118.00 C428.87,126.33 428.40,126.67 428.60,131.00" fill="none" stroke="#6a6d70" stroke-width="3" stroke-linecap="round"/><path d="M378.00,90.60 C380.33,88.57 380.33,87.93 385.00,84.50 C389.67,81.07 387.00,82.33 392.00,80.30 C397.00,78.27 395.00,78.97 400.00,78.40 C405.00,77.83 402.67,77.60 407.00,78.60 C411.33,79.60 409.33,78.77 413.00,81.40 C416.67,84.03 414.83,81.97 418.00,86.50 C421.17,91.03 419.83,88.50 422.50,95.00 C425.17,101.50 424.17,98.33 426.00,106.00 C427.83,113.67 427.13,109.67 428.00,118.00 C428.87,126.33 428.40,126.67 428.60,131.00" fill="none" stroke="#8d9093" stroke-width="0.8" stroke-linecap="round"/><path d="M343.9,11.4 L329.5,30" stroke="#727578" stroke-width="6.2" stroke-linecap="round"/><path d="M342.6,11.4 L329.5,28.5" stroke="#a6a9ab" stroke-width="1.8" stroke-linecap="round"/><path d="M331.5,27.5 L326.5,36.5" stroke="#5c5f62" stroke-width="6.4"/><path d="M330.3,29.5 L329.3,31.3 M328.5,32.6 L327.5,34.6" stroke="#8f9295" stroke-width="5.8"/><g transform="rotate(12 300.5 65)"><rect x="297.0" y="62.2" width="7" height="5.6" rx="1.2" fill="#5f6265"/><rect x="298.4" y="62.2" width="1.1" height="5.6" fill="#8f9295"/><rect x="301.6" y="62.2" width="1.1" height="5.6" fill="#8f9295"/></g><g transform="rotate(22 313 85.3)"><rect x="309.5" y="82.8" width="7" height="5" rx="1.2" fill="#5f6265"/><rect x="310.9" y="82.8" width="1.1" height="5" fill="#8f9295"/><rect x="314.1" y="82.8" width="1.1" height="5" fill="#8f9295"/></g><g transform="rotate(24 329.5 91.2)"><rect x="325.75" y="87.9" width="7.5" height="6.6" rx="1.2" fill="#5f6265"/><rect x="327.15" y="87.9" width="1.1" height="6.6" fill="#8f9295"/><rect x="330.85" y="87.9" width="1.1" height="6.6" fill="#8f9295"/></g><g transform="rotate(-40 375.8 93)"><rect x="372.8" y="90.0" width="6" height="6" rx="1.2" fill="#5f6265"/><rect x="374.2" y="90.0" width="1.1" height="6" fill="#8f9295"/><rect x="376.40000000000003" y="90.0" width="1.1" height="6" fill="#8f9295"/></g><path d="M424,131.3 L433.3,131.3 L433.6,136.8 L430.5,138.4 L430.5,156 Q430.5,158 428.6,158 Q426.8,158 426.8,156 L426.8,138.4 L423.6,136.8 Z" fill="#4b4e51"/><path d="M427.6,139 L427.6,156" stroke="#8e9194" stroke-width="0.9"/><path d="M420.5,133.5 L424.5,133 L424.5,137 L421,137.3 Z" fill="#55585b"/><clipPath id="uaClip"><path d="M220.00,80.00 C225.42,75.93 221.58,77.03 226.25,77.80 C230.92,78.57 228.58,79.57 234.00,82.30 C239.42,85.03 233.83,82.77 242.50,86.00 C251.17,89.23 247.50,87.33 260.00,92.00 C272.50,96.67 267.50,93.58 280.00,100.00 C292.50,106.42 286.67,103.25 297.50,111.25 C308.33,119.25 305.00,118.42 312.50,124.00 C320.00,129.58 319.50,122.67 320.00,128.00 C320.50,133.33 317.33,137.50 314.00,140.00 C310.67,142.50 313.83,138.42 310.00,135.50 C306.17,132.58 309.17,135.17 302.50,131.25 C295.83,127.33 299.17,129.58 290.00,123.75 C280.83,117.92 285.00,120.42 275.00,113.75 C265.00,107.08 270.00,109.17 260.00,103.75 C250.00,98.33 255.00,100.42 245.00,97.50 C235.00,94.58 239.17,94.67 230.00,95.00 C220.83,95.33 224.17,100.17 217.50,98.50 C210.83,96.83 209.17,96.17 210.00,90.00 C210.83,83.83 214.58,84.07 220.00,80.00 Z"/></clipPath><path d="M220.00,80.00 C225.42,75.93 221.58,77.03 226.25,77.80 C230.92,78.57 228.58,79.57 234.00,82.30 C239.42,85.03 233.83,82.77 242.50,86.00 C251.17,89.23 247.50,87.33 260.00,92.00 C272.50,96.67 267.50,93.58 280.00,100.00 C292.50,106.42 286.67,103.25 297.50,111.25 C308.33,119.25 305.00,118.42 312.50,124.00 C320.00,129.58 319.50,122.67 320.00,128.00 C320.50,133.33 317.33,137.50 314.00,140.00 C310.67,142.50 313.83,138.42 310.00,135.50 C306.17,132.58 309.17,135.17 302.50,131.25 C295.83,127.33 299.17,129.58 290.00,123.75 C280.83,117.92 285.00,120.42 275.00,113.75 C265.00,107.08 270.00,109.17 260.00,103.75 C250.00,98.33 255.00,100.42 245.00,97.50 C235.00,94.58 239.17,94.67 230.00,95.00 C220.83,95.33 224.17,100.17 217.50,98.50 C210.83,96.83 209.17,96.17 210.00,90.00 C210.83,83.83 214.58,84.07 220.00,80.00 Z" fill="url(#uaG)"/><g clip-path="url(#uaClip)"><path d="M228.00,80.50 C230.33,81.77 230.00,81.80 235.00,84.30 C240.00,86.80 234.67,84.77 243.00,88.00 C251.33,91.23 248.00,89.33 260.00,94.00 C272.00,98.67 267.00,95.67 279.00,102.00 C291.00,108.33 286.00,105.50 296.00,113.00 C306.00,120.50 304.67,120.67 309.00,124.50" fill="none" stroke="#d6d8d9" stroke-width="2.2" filter="url(#b1)"/><path d="M222.00,96.50 C225.33,96.17 224.33,95.00 232.00,95.50 C239.67,96.00 235.67,95.00 245.00,98.00 C254.33,101.00 250.00,99.00 260.00,104.50 C270.00,110.00 265.00,107.83 275.00,114.50 C285.00,121.17 280.67,118.67 290.00,124.50 C299.33,130.33 296.00,127.83 303.00,132.00 C310.00,136.17 308.33,135.33 311.00,137.00" fill="none" stroke="#808386" stroke-width="3" filter="url(#b05)"/><path d="M264,103 l8,5 M266.5,102 l8,5 M269,101.5 l7,4.5" stroke="#c9cbcd" stroke-width="0.7"/></g><path d="M194.50,85.00 C194.42,80.17 194.17,82.17 196.00,78.00 C197.83,73.83 197.00,75.33 200.00,72.50 C203.00,69.67 201.67,70.75 205.00,69.50 C208.33,68.25 206.33,68.75 210.00,68.75 C213.67,68.75 212.67,68.67 216.00,69.50 C219.33,70.33 216.58,69.00 220.00,71.25 C223.42,73.50 223.25,72.00 226.25,76.25 C229.25,80.50 229.08,78.75 229.00,84.00 C228.92,89.25 229.83,87.33 226.00,92.00 C222.17,96.67 222.42,95.33 217.50,98.00 C212.58,100.67 215.83,99.75 211.25,100.00 C206.67,100.25 208.75,101.25 203.75,98.75 C198.75,96.25 199.33,97.08 196.25,92.50 C193.17,87.92 194.58,89.83 194.50,85.00 Z" fill="url(#ubushG)"/><path d="M197,77 Q204,68.5 215,70 Q223,72.5 227,80" fill="none" stroke="#dcdedf" stroke-width="2" filter="url(#b1)"/><ellipse cx="204.3" cy="86" rx="8.6" ry="11.2" transform="rotate(-18 204.3 86)" fill="#b2b5b7"/><ellipse cx="204" cy="86.3" rx="6.6" ry="8.8" transform="rotate(-18 204 86.3)" fill="#94979a"/><ellipse cx="203.5" cy="86.8" rx="4.4" ry="6" transform="rotate(-18 203.5 86.8)" fill="#b9bbbd"/><circle cx="201.8" cy="88" r="2.3" fill="#dfe0e1"/><circle cx="201.8" cy="88" r="1.3" fill="#4a4d50"/><path d="M209,73 Q218,82 213,97" fill="none" stroke="#7b7e81" stroke-width="1.5" filter="url(#b05)"/><path d="M320.6,150 L328.7,150 L328.7,163.5 L328,164.5 L328,175 Q328,177 324.6,177 Q321.2,177 321.2,175 L321.2,164.5 L320.6,163.5 Z" fill="url(#cylH)"/><path d="M320.6,163.6 L328.7,163.6" stroke="#808386" stroke-width="0.9"/><path d="M315.8,148.4 L333.8,148.4 L329,154.4 L320.5,154.4 Z" fill="#b4b7b9"/><path d="M312.7,143.6 L336.9,143.6 L335.6,148.8 L314.2,148.8 Z" fill="#4a4d50"/><path d="M314,146.2 L336,146.2" stroke="#7d8083" stroke-width="0.8"/><path d="M311.25,127.00 C311.58,120.83 311.08,125.42 314.00,123.50 C316.92,121.58 316.00,122.15 320.00,121.25 C324.00,120.35 321.83,120.38 326.00,120.80 C330.17,121.22 328.83,120.93 332.50,122.50 C336.17,124.07 334.92,123.00 337.00,125.50 C339.08,128.00 338.32,124.33 338.75,130.00 C339.18,135.67 339.55,137.08 338.30,142.50 C337.05,147.92 341.93,145.00 335.00,146.25 C328.07,147.50 324.83,147.67 317.50,146.25 C310.17,144.83 315.08,148.42 313.00,142.00 C310.92,135.58 310.92,133.17 311.25,127.00 Z" fill="url(#bjG)"/><ellipse cx="325.2" cy="127.8" rx="12.3" ry="6.2" fill="#b3b6b8"/><ellipse cx="325.2" cy="127.6" rx="8.6" ry="4.1" fill="#9d9fa2"/><circle cx="324.6" cy="127.4" r="1.2" fill="#6f7275"/><clipPath id="a11Clip"><path d="M440.00,34.00 C446.13,28.33 441.93,31.93 446.40,38.00 C450.87,44.07 447.30,42.78 453.40,52.20 C459.50,61.62 455.30,57.82 464.70,66.25 C474.10,74.68 468.50,70.92 481.60,77.50 C494.70,84.08 489.95,80.83 504.00,86.00 C518.05,91.17 511.55,88.33 523.75,93.00 C535.95,97.67 532.52,96.33 540.60,100.00 C548.68,103.67 546.53,98.67 548.00,104.00 C549.47,109.33 549.33,113.10 545.00,116.00 C540.67,118.90 544.00,115.23 535.00,112.70 C526.00,110.17 531.13,112.17 518.00,108.40 C504.87,104.63 509.60,106.53 495.60,101.40 C481.60,96.27 488.20,99.57 476.00,93.00 C463.80,86.43 469.33,89.70 459.00,81.70 C448.67,73.70 453.00,75.57 445.00,69.00 C437.00,62.43 440.67,66.67 435.00,62.00 C429.33,57.33 426.33,64.33 428.00,55.00 C429.67,45.67 433.87,39.67 440.00,34.00 Z"/></clipPath><path d="M440.00,34.00 C446.13,28.33 441.93,31.93 446.40,38.00 C450.87,44.07 447.30,42.78 453.40,52.20 C459.50,61.62 455.30,57.82 464.70,66.25 C474.10,74.68 468.50,70.92 481.60,77.50 C494.70,84.08 489.95,80.83 504.00,86.00 C518.05,91.17 511.55,88.33 523.75,93.00 C535.95,97.67 532.52,96.33 540.60,100.00 C548.68,103.67 546.53,98.67 548.00,104.00 C549.47,109.33 549.33,113.10 545.00,116.00 C540.67,118.90 544.00,115.23 535.00,112.70 C526.00,110.17 531.13,112.17 518.00,108.40 C504.87,104.63 509.60,106.53 495.60,101.40 C481.60,96.27 488.20,99.57 476.00,93.00 C463.80,86.43 469.33,89.70 459.00,81.70 C448.67,73.70 453.00,75.57 445.00,69.00 C437.00,62.43 440.67,66.67 435.00,62.00 C429.33,57.33 426.33,64.33 428.00,55.00 C429.67,45.67 433.87,39.67 440.00,34.00 Z" fill="url(#a11G)"/><g clip-path="url(#a11Clip)"><path d="M446.00,41.00 C448.67,45.67 447.50,45.83 454.00,55.00 C460.50,64.17 456.17,60.33 465.50,68.50 C474.83,76.67 469.17,73.00 482.00,79.50 C494.83,86.00 490.00,82.83 504.00,88.00 C518.00,93.17 512.00,90.50 524.00,95.00 C536.00,99.50 534.67,99.33 540.00,101.50" fill="none" stroke="#c9cbcd" stroke-width="2" filter="url(#b1)"/><path d="M437.00,63.50 C440.00,65.83 438.50,64.10 446.00,70.50 C453.50,76.90 449.50,74.87 459.50,82.70 C469.50,90.53 463.97,87.43 476.00,94.00 C488.03,100.57 481.60,97.27 495.60,102.40 C509.60,107.53 504.20,105.53 518.00,109.40 C531.80,113.27 530.67,112.47 537.00,114.00" fill="none" stroke="#6f7275" stroke-width="3" filter="url(#b05)"/><path d="M459,69 l3,6 M491,93.5 l2,5 M523,102 l1.5,4" stroke="#c3c5c7" stroke-width="0.8"/></g><path d="M409.80,41.00 C409.72,35.27 409.60,38.33 411.00,35.00 C412.40,31.67 411.33,33.83 414.00,31.00 C416.67,28.17 415.23,28.83 419.00,26.50 C422.77,24.17 421.30,24.97 425.30,24.00 C429.30,23.03 427.23,23.40 431.00,23.60 C434.77,23.80 433.10,23.30 436.60,24.60 C440.10,25.90 438.70,25.37 441.50,27.50 C444.30,29.63 443.17,27.50 445.00,31.00 C446.83,34.50 446.67,31.67 447.00,38.00 C447.33,44.33 448.00,43.33 446.00,50.00 C444.00,56.67 444.67,54.00 441.00,58.00 C437.33,62.00 439.33,60.20 435.00,62.00 C430.67,63.80 433.57,64.33 428.00,63.40 C422.43,62.47 423.88,62.93 418.30,59.20 C412.72,55.47 414.08,58.27 411.25,52.20 C408.42,46.13 409.88,46.73 409.80,41.00 Z" fill="url(#ubush2G)"/><path d="M413,33 Q421,23.5 433,24.5 Q442,26.5 446,35" fill="none" stroke="#cfd1d2" stroke-width="2" filter="url(#b1)"/><ellipse cx="420.3" cy="43.6" rx="9.8" ry="14.2" transform="rotate(-17 420.3 43.6)" fill="#999c9f"/><ellipse cx="420" cy="44" rx="8" ry="12.2" transform="rotate(-17 420 44)" fill="#3c3f42"/><ellipse cx="419.6" cy="44.6" rx="5" ry="7.6" transform="rotate(-17 419.6 44.6)" fill="#8e9194"/><circle cx="417.3" cy="46.5" r="2.4" fill="#d9dbdc"/><circle cx="417.3" cy="46.5" r="1.3" fill="#4a4d50"/><path d="M428,28 Q438,42 431,61" fill="none" stroke="#6f7275" stroke-width="1.6" filter="url(#b05)"/><path d="M541.50,104.00 C543.63,100.87 542.67,102.33 546.00,100.60 C549.33,98.87 547.83,99.40 551.50,98.80 C555.17,98.20 553.50,98.13 557.00,98.80 C560.50,99.47 559.00,98.87 562.00,100.80 C565.00,102.73 563.90,101.70 566.00,104.60 C568.10,107.50 567.43,106.03 568.30,109.50 C569.17,112.97 569.10,111.33 568.60,115.00 C568.10,118.67 568.67,117.17 566.80,120.50 C564.93,123.83 565.93,122.50 563.00,125.00 C560.07,127.50 561.50,126.80 558.00,128.00 C554.50,129.20 556.00,129.00 552.50,128.60 C549.00,128.20 550.67,128.83 547.50,126.80 C544.33,124.77 545.50,125.77 543.00,122.50 C540.50,119.23 541.13,121.17 540.00,117.00 C538.87,112.83 539.10,114.33 539.60,110.00 C540.10,105.67 539.37,107.13 541.50,104.00 Z" fill="url(#bj11G)"/><path d="M546.5,101.8 Q556,97.6 565.5,105.5" fill="none" stroke="#cfd1d2" stroke-width="2" filter="url(#b05)"/><path d="M545.3,102.5 Q540.5,112 551.5,128" fill="none" stroke="#55585b" stroke-width="1.4"/><path d="M548.3,100.8 Q543.8,111.5 554.6,128.3" fill="none" stroke="#b4b7b9" stroke-width="1.5"/><path d="M551.2,99.6 Q547,111 557.5,128" fill="none" stroke="#5a5d60" stroke-width="1.4"/><ellipse cx="543.5" cy="117.8" rx="5.6" ry="9.2" transform="rotate(-32 543.5 117.8)" fill="#3f4245"/><ellipse cx="542.3" cy="118.6" rx="5.6" ry="8.6" transform="rotate(-32 542.3 118.6)" fill="url(#studG)"/><path d="M538.5,114.8 L543,123.6 L533.8,128.6 L530.2,121.6 Z" fill="url(#studG)"/><path d="M531.2,122.6 L533.8,127.8 L521,134.4 Q519,134.8 518.2,133.2 Q517.6,131.4 519,130.2 Z" fill="url(#studG)"/><path d="M530.2,121.6 L533.8,128.6" stroke="#85888b" stroke-width="0.8"/><path d="M338.5,372 Q340.5,382 339,392 Q337.5,398 336,402 L352,400 Q350.5,392 350.8,384 Q351.5,376 356,368 Z" fill="url(#linkG)"/><ellipse cx="343" cy="361.8" rx="14.2" ry="14.5" fill="url(#eyeG)"/><path d="M341,349.1 A12.2,12.7 0 0 1 344,374.8" fill="none" stroke="#e2e3e4" stroke-width="2" filter="url(#b05)"/><path d="M346.5,349.8 A11.2,12.2 0 0 1 348.5,373.4" fill="none" stroke="#8a8d90" stroke-width="1.4" filter="url(#b05)"/><path d="M350,351.6 A10.2,11.2 0 0 1 351.6,371.0" fill="none" stroke="#d0d2d3" stroke-width="1.3" filter="url(#b05)"/><ellipse cx="336.2" cy="362.3" rx="7" ry="10.4" transform="rotate(-12 336.2 362.3)" fill="#bfc1c3"/><ellipse cx="336.0" cy="362.6" rx="5.6" ry="8.6" transform="rotate(-12 336.0 362.6)" fill="#2e3134"/><ellipse cx="335.7" cy="363.1" rx="3.4" ry="5.2" transform="rotate(-12 335.7 363.1)" fill="#7d8083"/><circle cx="335.0" cy="363.90000000000003" r="1.9" fill="#e0e1e2"/><ellipse cx="347.5" cy="411.8" rx="15" ry="15.3" fill="url(#eyeG)"/><path d="M345.5,398.3 A13,13.5 0 0 1 348.5,425.6" fill="none" stroke="#e2e3e4" stroke-width="2" filter="url(#b05)"/><path d="M351.0,399.0 A12,13 0 0 1 353.0,424.2" fill="none" stroke="#8a8d90" stroke-width="1.4" filter="url(#b05)"/><path d="M354.5,400.8 A11,12 0 0 1 356.1,421.8" fill="none" stroke="#d0d2d3" stroke-width="1.3" filter="url(#b05)"/><ellipse cx="339.6" cy="411.2" rx="7" ry="10.4" transform="rotate(-12 339.6 411.2)" fill="#bfc1c3"/><ellipse cx="339.40000000000003" cy="411.5" rx="5.6" ry="8.6" transform="rotate(-12 339.40000000000003 411.5)" fill="#2e3134"/><ellipse cx="339.1" cy="412.0" rx="3.4" ry="5.2" transform="rotate(-12 339.1 412.0)" fill="#7d8083"/><circle cx="338.40000000000003" cy="412.8" r="1.9" fill="#e0e1e2"/><circle cx="338.2" cy="413" r="0.9" fill="#55585b"/><path d="M345,375 Q346.5,386 345.5,398" fill="none" stroke="#dcdddf" stroke-width="2.2" filter="url(#b05)"/><path d="M340,375 Q341.5,386 340,397" fill="none" stroke="#909396" stroke-width="1.4" filter="url(#b05)"/><ellipse cx="516.6" cy="336.3" rx="10.8" ry="17.6" transform="rotate(-8 516.6 336.3)" fill="#3c3f42"/><ellipse cx="514.6" cy="336.5" rx="10.6" ry="17.4" transform="rotate(-8 514.6 336.5)" fill="#595c5f"/><path d="M495,321 Q505,318.6 515,319.2 Q522.5,327 521.5,340 Q520,350 513,353.6 Q504,355 498,354 Z" fill="url(#b2G)"/><path d="M498,321.3 Q506,319.6 515,320.4" fill="none" stroke="#d4d6d7" stroke-width="1.8" filter="url(#b05)"/><ellipse cx="497.6" cy="338.2" rx="11.4" ry="16.6" transform="rotate(-10 497.6 338.2)" fill="#c3c5c7"/><ellipse cx="496.8" cy="338.5" rx="10.6" ry="15.8" transform="rotate(-10 496.8 338.5)" fill="#303336"/><ellipse cx="495.6" cy="338.9" rx="8" ry="12.4" transform="rotate(-10 495.6 338.9)" fill="#4d5053"/><ellipse cx="493.6" cy="339.3" rx="5.8" ry="9" transform="rotate(-10 493.6 339.3)" fill="#9a9da0"/><ellipse cx="492.9" cy="339.3" rx="2.6" ry="4.4" transform="rotate(-10 492.9 339.3)" fill="#707376"/><ellipse cx="453.9" cy="346.3" rx="9.9" ry="16.2" transform="rotate(-9 453.9 346.3)" fill="none" stroke="#808386" stroke-width="2.7"/><ellipse cx="453.9" cy="346.3" rx="9.9" ry="16.2" transform="rotate(-9 453.9 346.3)" fill="none" stroke="#a6a9ab" stroke-width="0.9"/><rect x="452.2" y="360.6" width="1.6" height="4" fill="#fff" transform="rotate(-20 453 362.6)"/><path d="M166.25,56.25 L170.5,54.1 L177.5,57 L185.2,61.9 L190.2,68.2 L191.3,73.1 L188,75.2 L180.3,73.8 L173.3,68.9 L167,62.6 Z" fill="#9da0a3" stroke="#8a8d90" stroke-width="0.6" stroke-linejoin="round"/><ellipse cx="178.9" cy="65.4" rx="4.3" ry="2.3" transform="rotate(30 178.9 65.4)" fill="#fff"/><circle cx="186.6" cy="71" r="1.1" fill="#fff"/><circle cx="169.2" cy="60.8" r="0.9" fill="#e4e4e4"/><path d="M187.3,62 L187.6,64.4" stroke="#9da0a3" stroke-width="0.8"/><g stroke-linejoin="round"><path d="M232,121 L245,124.6 L258,129.4 L272,135.6 L272,139 L258,133.4 L245,128.2 L232,124.6 Z" fill="#45484b"/><path d="M243.6,119.8 L245.6,119.8 L245.8,125 L243.6,124.6 Z M259.8,127 L261.6,127 L261.8,131.5 L259.8,131 Z M263.2,136 L265.2,136.6 L265,141.6 L263.2,141 Z" fill="#3a3d40"/><path d="M223.4,108.4 L226.2,104.8 L232.5,107 L233.2,123.1 L226.9,125.6 L222.7,120.3 Z" fill="#3a3d40"/><path d="M232.5,107 L238.8,116.1 L238.8,123.3 L233.2,125.4 Z" fill="#55585b"/><path d="M226.3,109 L231,110.6 L231.2,119 L226.8,118 Z" fill="#4f5255"/><path d="M224.1,113.3 L220.5,128.8" stroke="#8b8e91" stroke-width="0.9" fill="none"/><path d="M224.4,111 L223.6,119" stroke="#d0d0d0" stroke-width="0.7" fill="none"/><path d="M233.5,118 L237.5,119" stroke="#c9c9c9" stroke-width="0.8" fill="none"/><path d="M270.5,130.2 L274.7,126.6 L281,128.75 L282.5,147.5 L277.5,149.3 L268.4,145.6 Z" fill="#3a3d40"/><path d="M281,128.75 L288.75,140 L286.6,147 L282.5,148 Z" fill="#505356"/><path d="M274.5,131.5 L279.6,133 L280,143 L275,141.6 Z" fill="#4f5255"/><path d="M282.6,140.2 L286,141.2 L285.4,143.6 L282.8,143 Z" fill="#e8e8e8"/><path d="M268.6,140 L267.2,148.6" stroke="#55585b" stroke-width="1" fill="none"/></g><path d="M146.5,60.8 L165,60.8" fill="none" stroke="#0a0a0a" stroke-width="1.05"/><path d="M182.5,100.5 L201,90" fill="none" stroke="#0a0a0a" stroke-width="1.05"/><path d="M231,73.2 L226.5,76" fill="none" stroke="#0a0a0a" stroke-width="1.05"/><path d="M248.7,133.5 L248.7,146.5" fill="none" stroke="#0a0a0a" stroke-width="1.05"/><path d="M263.5,187.7 L258.8,190" fill="none" stroke="#0a0a0a" stroke-width="1.05"/><path d="M182.3,212.4 L193.5,208.3" fill="none" stroke="#0a0a0a" stroke-width="1.05"/><path d="M124.8,242.3 L119.5,251.5" fill="none" stroke="#0a0a0a" stroke-width="1.05"/><path d="M92,297 L99.7,283" fill="none" stroke="#0a0a0a" stroke-width="1.05"/><path d="M406.5,53.2 L416,47.6" fill="none" stroke="#0a0a0a" stroke-width="1.05"/><path d="M449.2,31 L456.3,27" fill="none" stroke="#0a0a0a" stroke-width="1.05"/><path d="M504,70.5 L504,84" fill="none" stroke="#0a0a0a" stroke-width="1.05"/><path d="M321.3,60 L337.5,60" fill="none" stroke="#0a0a0a" stroke-width="1.05"/><path d="M165,325 L165,360.5" fill="none" stroke="#0a0a0a" stroke-width="1.05"/><path d="M339.5,137.2 L357,137.2" fill="none" stroke="#0a0a0a" stroke-width="1.05"/><path d="M401,201.3 L434.5,201.3" fill="none" stroke="#0a0a0a" stroke-width="1.05"/><path d="M437,300.5 L437,284" fill="none" stroke="#0a0a0a" stroke-width="1.05"/><path d="M515,278.8 L526,275.2" fill="none" stroke="#0a0a0a" stroke-width="1.05"/><path d="M500.8,306.7 L505.4,319.5" fill="none" stroke="#0a0a0a" stroke-width="1.05"/><path d="M505.3,356.5 L505.3,374.5" fill="none" stroke="#0a0a0a" stroke-width="1.05"/><path d="M457.6,364 L457.6,375.5" fill="none" stroke="#0a0a0a" stroke-width="1.05"/><path d="M436,352.2 L458.6,345" fill="none" stroke="#0a0a0a" stroke-width="1.05"/><path d="M352.5,382.5 L368.5,382.5" fill="none" stroke="#0a0a0a" stroke-width="1.05"/><path d="M300,351 L288.8,342.3" fill="none" stroke="#0a0a0a" stroke-width="1.05"/><path d="M284.5,392.3 L333.5,364.3" fill="none" stroke="#0a0a0a" stroke-width="1.05"/><path d="M356.3,353.8 L363.8,348.8" fill="none" stroke="#0a0a0a" stroke-width="1.05"/><path d="M399,110.5 L399,116" fill="none" stroke="#0a0a0a" stroke-width="1.05"/><path d="M476,128.8 L480,128.8" fill="none" stroke="#0a0a0a" stroke-width="1.05"/><path d="M399,116 L421.5,129" fill="none" stroke="#0a0a0a" stroke-width="1.05" stroke-dasharray="24 1.4 1.3 1.4"/><path d="M428.3,158 L428.3,169.5 L478.8,202.5 L478.8,209.5" fill="none" stroke="#0a0a0a" stroke-width="1.05" stroke-dasharray="24 1.4 1.3 1.4"/><path d="M480,128.8 L480,183.5 L486,184.5" fill="none" stroke="#0a0a0a" stroke-width="1.05" stroke-dasharray="24 1.4 1.3 1.4"/><path d="M517.5,134.4 L512.5,136.3 L512.5,167.5 L505,173.5" fill="none" stroke="#0a0a0a" stroke-width="1.05" stroke-dasharray="24 1.4 1.3 1.4"/><path d="M324,177.5 L324,188.2 L436.5,252.6 L436.5,260" fill="none" stroke="#0a0a0a" stroke-width="1.05" stroke-dasharray="24 1.4 1.3 1.4"/><path d="M473.9,292 L473.9,340.5 L465.6,343.8" fill="none" stroke="#0a0a0a" stroke-width="1.05" stroke-dasharray="24 1.4 1.3 1.4"/><path d="M231.5,361.5 L256.3,347" fill="none" stroke="#0a0a0a" stroke-width="1.05" stroke-dasharray="24 1.4 1.3 1.4"/><path d="M275.5,338 L336,397.3" fill="none" stroke="#0a0a0a" stroke-width="1.05" stroke-dasharray="24 1.4 1.3 1.4"/><path d="M270,357.5 L335,412.5" fill="none" stroke="#0a0a0a" stroke-width="1.05" stroke-dasharray="24 1.4 1.3 1.4"/><path d="M41.5,62 L50.5,62 L50.5,82.5 Q50.5,84 49.0,84 L43.0,84 Q41.5,84 41.5,82.5 Z" fill="url(#cylH)"/><g stroke="#6c6f72" stroke-width="0.7" opacity="0.75"><line x1="41.5" x2="50.5" y1="66.5" y2="67.1"/><line x1="41.5" x2="50.5" y1="68.4" y2="69.0"/><line x1="41.5" x2="50.5" y1="70.3" y2="70.9"/><line x1="41.5" x2="50.5" y1="72.2" y2="72.8"/><line x1="41.5" x2="50.5" y1="74.1" y2="74.7"/><line x1="41.5" x2="50.5" y1="76.0" y2="76.6"/><line x1="41.5" x2="50.5" y1="77.9" y2="78.5"/><line x1="41.5" x2="50.5" y1="79.8" y2="80.4"/><line x1="41.5" x2="50.5" y1="81.7" y2="82.3"/></g><path d="M38.4,52 Q38.4,49.3 45.1,49.3 Q51.8,49.3 51.8,52 L51.8,63.4 Q51.8,65.4 45.1,65.4 Q38.4,65.4 38.4,63.4 Z" fill="url(#cylH)"/><ellipse cx="45" cy="52.8" rx="6.6" ry="3.3" fill="#b9bbbd"/><ellipse cx="45" cy="53" rx="3.6" ry="2.3" fill="#5f6265"/><path d="M41.6,110 L51,110 L51,150.9 Q51,152.4 49.5,152.4 L43.1,152.4 Q41.6,152.4 41.6,150.9 Z" fill="url(#cylH)"/><g stroke="#6c6f72" stroke-width="0.7" opacity="0.75"><line x1="41.6" x2="51" y1="132.0" y2="132.6"/><line x1="41.6" x2="51" y1="134.0" y2="134.6"/><line x1="41.6" x2="51" y1="136.0" y2="136.6"/><line x1="41.6" x2="51" y1="138.0" y2="138.6"/><line x1="41.6" x2="51" y1="140.0" y2="140.6"/><line x1="41.6" x2="51" y1="142.0" y2="142.6"/><line x1="41.6" x2="51" y1="144.0" y2="144.6"/><line x1="41.6" x2="51" y1="146.0" y2="146.6"/><line x1="41.6" x2="51" y1="148.0" y2="148.6"/><line x1="41.6" x2="51" y1="150.0" y2="150.6"/></g><path d="M31,109 Q33.5,102.5 39.5,98.5 L53,98.5 Q59,102.5 62,109 Q62,112.3 57,112.6 L36,112.6 Q31,112.3 31,109 Z" fill="url(#cylH)"/><path d="M31,109 Q34,104 38.5,101 L39.5,108 Q35,111.5 31,109 Z" fill="#6f7275"/><path d="M62,109 Q59,104 54.5,101 L53.5,108 Q58,111.5 62,109 Z" fill="#6f7275"/><path d="M36,110.6 Q46.5,114.2 57,110.6 L57,112.6 L36,112.6 Z" fill="#d4d6d7"/><ellipse cx="46.3" cy="105.5" rx="0.0" ry="0.0" fill="#85888b"/><ellipse cx="46.3" cy="105.5" rx="0.0" ry="0.0" fill="url(#cylH)"/><path d="M38.05,97.94 L38.05,104.5 L42.504999999999995,106.7 L50.095,106.7 L54.55,104.5 L54.55,97.94 Z" fill="#8d9093"/><path d="M42.504999999999995,100.88 L42.504999999999995,106.7 L50.095,106.7 L50.095,100.88 Z" fill="#a9acae"/><path d="M38.05,97.94 L38.05,104.5 L42.504999999999995,106.7 L42.504999999999995,100.88 Z" fill="#96999c"/><path d="M38.05,97.94 L42.504999999999995,95 L50.095,95 L54.55,97.94 L50.095,100.88 L42.504999999999995,100.88 Z" fill="#c3c5c7" stroke="#8a8d90" stroke-width="0.5"/><path d="M40.6,182 L53.4,182 L53.4,234.5 Q53.4,236 51.9,236 L42.1,236 Q40.6,236 40.6,234.5 Z" fill="url(#cylH)"/><g stroke="#6c6f72" stroke-width="0.7" opacity="0.75"><line x1="40.6" x2="53.4" y1="203.0" y2="203.6"/><line x1="40.6" x2="53.4" y1="205.0" y2="205.6"/><line x1="40.6" x2="53.4" y1="207.0" y2="207.6"/><line x1="40.6" x2="53.4" y1="209.0" y2="209.6"/><line x1="40.6" x2="53.4" y1="211.0" y2="211.6"/><line x1="40.6" x2="53.4" y1="213.0" y2="213.6"/><line x1="40.6" x2="53.4" y1="215.0" y2="215.6"/><line x1="40.6" x2="53.4" y1="217.0" y2="217.6"/><line x1="40.6" x2="53.4" y1="219.0" y2="219.6"/><line x1="40.6" x2="53.4" y1="221.0" y2="221.6"/><line x1="40.6" x2="53.4" y1="223.0" y2="223.6"/><line x1="40.6" x2="53.4" y1="225.0" y2="225.6"/><line x1="40.6" x2="53.4" y1="227.0" y2="227.6"/><line x1="40.6" x2="53.4" y1="229.0" y2="229.6"/><line x1="40.6" x2="53.4" y1="231.0" y2="231.6"/><line x1="40.6" x2="53.4" y1="233.0" y2="233.6"/></g><rect x="40.6" y="200.8" width="12.8" height="2.2" fill="#dcdddf" opacity="0.9"/><ellipse cx="46.9" cy="181.77" rx="14.25" ry="3.7800000000000002" fill="#85888b"/><ellipse cx="46.9" cy="179.67000000000002" rx="14.25" ry="3.7800000000000002" fill="url(#cylH)"/><path d="M37.15,170.22 L37.15,179.3 L42.415,181.5 L51.385,181.5 L56.65,179.3 L56.65,170.22 Z" fill="#8d9093"/><path d="M42.415,174.14000000000001 L42.415,181.5 L51.385,181.5 L51.385,174.14000000000001 Z" fill="#a9acae"/><path d="M37.15,170.22 L37.15,179.3 L42.415,181.5 L42.415,174.14000000000001 Z" fill="#96999c"/><path d="M37.15,170.22 L42.415,166.3 L51.385,166.3 L56.65,170.22 L51.385,174.14000000000001 L42.415,174.14000000000001 Z" fill="#c3c5c7" stroke="#8a8d90" stroke-width="0.5"/><path d="M30.199999999999996,255.6 L30.199999999999996,259.0 A17.6,9.2 0 0 0 65.4,259.0 L65.4,255.6 Z" fill="#7f8285"/><ellipse cx="47.8" cy="255.6" rx="17.6" ry="9.2" fill="url(#washG)"/><ellipse cx="47.8" cy="255.6" rx="6.4" ry="3.3" fill="#a9acae"/><path d="M41.4,255.6 A6.4,3.3 0 0 1 54.199999999999996,255.6 A6.4,1.815 0 0 0 41.4,255.6 Z" fill="#6f7275"/><path d="M32.6,300.1520000000001 L32.6,302.5520000000001 A16,6 0 0 0 64.6,302.5520000000001 L64.6,300.1520000000001 Z" fill="#7b7e81"/><ellipse cx="48.6" cy="300.1520000000001" rx="16" ry="6" fill="url(#flG)"/><path d="M36.5,286.87600000000003 L41.699999999999996,291.45200000000006 L41.699999999999996,300.0520000000001 L36.5,295.47600000000006 Z" fill="#96999c"/><path d="M41.699999999999996,291.45200000000006 L52.1,291.45200000000006 L52.1,300.0520000000001 L41.699999999999996,300.0520000000001 Z" fill="#b1b4b6"/><path d="M52.1,291.45200000000006 L57.3,286.87600000000003 L57.3,295.47600000000006 L52.1,300.0520000000001 Z" fill="#878a8d"/><path d="M36.5,286.87600000000003 L41.699999999999996,282.3 L52.1,282.3 L57.3,286.87600000000003 L52.1,291.45200000000006 L41.699999999999996,291.45200000000006 Z" fill="#c7c9cb" stroke="#9a9da0" stroke-width="0.4"/><ellipse cx="46.9" cy="286.87600000000003" rx="5.3" ry="3.0" fill="#64676a"/><ellipse cx="47.699999999999996" cy="287.776" rx="4.24" ry="1.9500000000000002" fill="#94979a"/><path d="M42.5,330 L52,330 L52,388.5 Q52,390 50.5,390 L44.0,390 Q42.5,390 42.5,388.5 Z" fill="url(#cylH)"/><g stroke="#6c6f72" stroke-width="0.7" opacity="0.75"><line x1="42.5" x2="52" y1="366.0" y2="366.6"/><line x1="42.5" x2="52" y1="368.0" y2="368.6"/><line x1="42.5" x2="52" y1="370.0" y2="370.6"/><line x1="42.5" x2="52" y1="372.0" y2="372.6"/><line x1="42.5" x2="52" y1="374.0" y2="374.6"/><line x1="42.5" x2="52" y1="376.0" y2="376.6"/><line x1="42.5" x2="52" y1="378.0" y2="378.6"/><line x1="42.5" x2="52" y1="380.0" y2="380.6"/><line x1="42.5" x2="52" y1="382.0" y2="382.6"/><line x1="42.5" x2="52" y1="384.0" y2="384.6"/><line x1="42.5" x2="52" y1="386.0" y2="386.6"/><line x1="42.5" x2="52" y1="388.0" y2="388.6"/></g><ellipse cx="46.8" cy="333.175" rx="9.25" ry="2.25" fill="#85888b"/><ellipse cx="46.8" cy="331.925" rx="9.25" ry="2.25" fill="url(#cylH)"/><path d="M39.05,322.94 L39.05,331.3 L43.235,333.5 L50.364999999999995,333.5 L54.55,331.3 L54.55,322.94 Z" fill="#8d9093"/><path d="M43.235,326.58000000000004 L43.235,333.5 L50.364999999999995,333.5 L50.364999999999995,326.58000000000004 Z" fill="#a9acae"/><path d="M39.05,322.94 L39.05,331.3 L43.235,333.5 L43.235,326.58000000000004 Z" fill="#96999c"/><path d="M39.05,322.94 L43.235,319.3 L50.364999999999995,319.3 L54.55,322.94 L50.364999999999995,326.58000000000004 L43.235,326.58000000000004 Z" fill="#c3c5c7" stroke="#8a8d90" stroke-width="0.5"/><path d="M27.1,419.30999999999995 L27.1,421.7099999999999 A19.4,6.2 0 0 0 65.9,421.7099999999999 L65.9,419.30999999999995 Z" fill="#7b7e81"/><ellipse cx="46.5" cy="419.30999999999995" rx="19.4" ry="6.2" fill="url(#flG)"/><path d="M31.25,406.205 L38.875,412.60999999999996 L38.875,420.80999999999995 L31.25,414.405 Z" fill="#96999c"/><path d="M38.875,412.60999999999996 L54.125,412.60999999999996 L54.125,420.80999999999995 L38.875,420.80999999999995 Z" fill="#b1b4b6"/><path d="M54.125,412.60999999999996 L61.75,406.205 L61.75,414.405 L54.125,420.80999999999995 Z" fill="#878a8d"/><path d="M31.25,406.205 L38.875,399.8 L54.125,399.8 L61.75,406.205 L54.125,412.60999999999996 L38.875,412.60999999999996 Z" fill="#c7c9cb" stroke="#9a9da0" stroke-width="0.4"/><path d="M38.3,406.205 L38.3,402.60499999999996 A8.2,4.6 0 0 1 54.7,402.60499999999996 L54.7,406.205 A8.2,4.6 0 0 1 38.3,406.205 Z" fill="#a3a6a8"/><ellipse cx="46.5" cy="402.60499999999996" rx="8.2" ry="4.6" fill="#c9cbcd"/><ellipse cx="46.5" cy="402.805" rx="6.6" ry="3.6" fill="#64676a"/><ellipse cx="47.3" cy="403.805" rx="5.28" ry="2.3400000000000003" fill="#94979a"/><rect x="48.81" y="399.805" width="2" height="3" fill="#f2f2f2"/><rect x="38.1" y="401.405" width="1.6" height="2.6" fill="#f2f2f2"/><path d="M608.6,30 L620.3,30 L620.3,80.5 Q620.3,82 618.8,82 L610.1,82 Q608.6,82 608.6,80.5 Z" fill="url(#cylH)"/><g stroke="#6c6f72" stroke-width="0.7" opacity="0.75"><line x1="608.6" x2="620.3" y1="40.0" y2="40.6"/><line x1="608.6" x2="620.3" y1="42.0" y2="42.6"/><line x1="608.6" x2="620.3" y1="44.0" y2="44.6"/><line x1="608.6" x2="620.3" y1="46.0" y2="46.6"/><line x1="608.6" x2="620.3" y1="48.0" y2="48.6"/><line x1="608.6" x2="620.3" y1="50.0" y2="50.6"/><line x1="608.6" x2="620.3" y1="52.0" y2="52.6"/><line x1="608.6" x2="620.3" y1="54.0" y2="54.6"/><line x1="608.6" x2="620.3" y1="56.0" y2="56.6"/><line x1="608.6" x2="620.3" y1="58.0" y2="58.6"/><line x1="608.6" x2="620.3" y1="60.0" y2="60.6"/><line x1="608.6" x2="620.3" y1="62.0" y2="62.6"/><line x1="608.6" x2="620.3" y1="64.0" y2="64.6"/><line x1="608.6" x2="620.3" y1="66.0" y2="66.6"/><line x1="608.6" x2="620.3" y1="68.0" y2="68.6"/><line x1="608.6" x2="620.3" y1="70.0" y2="70.6"/><line x1="608.6" x2="620.3" y1="72.0" y2="72.6"/><line x1="608.6" x2="620.3" y1="74.0" y2="74.6"/><line x1="608.6" x2="620.3" y1="76.0" y2="76.6"/><line x1="608.6" x2="620.3" y1="78.0" y2="78.6"/><line x1="608.6" x2="620.3" y1="80.0" y2="80.6"/></g><ellipse cx="613.7" cy="31.39" rx="13.0" ry="4.86" fill="#85888b"/><ellipse cx="613.7" cy="28.69" rx="13.0" ry="4.86" fill="url(#cylH)"/><path d="M603.45,19.060000000000002 L603.45,28.5 L608.985,30.7 L618.4150000000001,30.7 L623.95,28.5 L623.95,19.060000000000002 Z" fill="#8d9093"/><path d="M608.985,23.12 L608.985,30.7 L618.4150000000001,30.7 L618.4150000000001,23.12 Z" fill="#a9acae"/><path d="M603.45,19.060000000000002 L603.45,28.5 L608.985,30.7 L608.985,23.12 Z" fill="#96999c"/><path d="M603.45,19.060000000000002 L608.985,15 L618.4150000000001,15 L623.95,19.060000000000002 L618.4150000000001,23.12 L608.985,23.12 Z" fill="#c3c5c7" stroke="#8a8d90" stroke-width="0.5"/><path d="M597.9000000000001,111.08999999999997 L597.9000000000001,113.48999999999998 A16.8,5.4 0 0 0 631.5,113.48999999999998 L631.5,111.08999999999997 Z" fill="#7b7e81"/><ellipse cx="614.7" cy="111.08999999999997" rx="16.8" ry="5.4" fill="url(#flG)"/><path d="M599.95,97.79499999999999 L607.325,103.98999999999998 L607.325,112.58999999999997 L599.95,106.39499999999998 Z" fill="#96999c"/><path d="M607.325,103.98999999999998 L622.075,103.98999999999998 L622.075,112.58999999999997 L607.325,112.58999999999997 Z" fill="#b1b4b6"/><path d="M622.075,103.98999999999998 L629.45,97.79499999999999 L629.45,106.39499999999998 L622.075,112.58999999999997 Z" fill="#878a8d"/><path d="M599.95,97.79499999999999 L607.325,91.6 L622.075,91.6 L629.45,97.79499999999999 L622.075,103.98999999999998 L607.325,103.98999999999998 Z" fill="#c7c9cb" stroke="#9a9da0" stroke-width="0.4"/><path d="M606.7,97.79499999999999 L606.7,94.195 A8.0,4.5 0 0 1 622.7,94.195 L622.7,97.79499999999999 A8.0,4.5 0 0 1 606.7,97.79499999999999 Z" fill="#a3a6a8"/><ellipse cx="614.7" cy="94.195" rx="8.0" ry="4.5" fill="#c9cbcd"/><ellipse cx="614.7" cy="94.39499999999998" rx="6.4" ry="3.5" fill="#64676a"/><ellipse cx="615.5" cy="95.39499999999998" rx="5.120000000000001" ry="2.275" fill="#94979a"/><rect x="616.94" y="91.39499999999998" width="2" height="3" fill="#f2f2f2"/><rect x="606.5000000000001" y="92.99499999999999" width="1.6" height="2.6" fill="#f2f2f2"/><path d="M596.1,147.232 L596.1,149.632 A16.4,5.6 0 0 0 628.9,149.632 L628.9,147.232 Z" fill="#7b7e81"/><ellipse cx="612.5" cy="147.232" rx="16.4" ry="5.6" fill="url(#flG)"/><path d="M599.85,134.566 L606.175,140.132 L606.175,148.732 L599.85,143.166 Z" fill="#96999c"/><path d="M606.175,140.132 L618.825,140.132 L618.825,148.732 L606.175,148.732 Z" fill="#b1b4b6"/><path d="M618.825,140.132 L625.15,134.566 L625.15,143.166 L618.825,148.732 Z" fill="#878a8d"/><path d="M599.85,134.566 L606.175,129 L618.825,129 L625.15,134.566 L618.825,140.132 L606.175,140.132 Z" fill="#c7c9cb" stroke="#9a9da0" stroke-width="0.4"/><ellipse cx="612.5" cy="134.566" rx="6.5" ry="3.7" fill="#64676a"/><ellipse cx="613.3" cy="135.466" rx="5.2" ry="2.4050000000000002" fill="#94979a"/><path d="M593,184.3 L593,187.9 A19,9.6 0 0 0 631,187.9 L631,184.3 Z" fill="#7f8285"/><ellipse cx="612" cy="184.3" rx="19" ry="9.6" fill="url(#washG)"/><ellipse cx="612" cy="184.3" rx="7" ry="3.6" fill="#f4f4f4"/><path d="M605,184.3 A7,3.6 0 0 1 619,184.3 A7,1.9800000000000002 0 0 0 605,184.3 Z" fill="#6f7275"/><path d="M610,214 L620,214 L620,272.8 Q620,274.3 618.5,274.3 L611.5,274.3 Q610,274.3 610,272.8 Z" fill="url(#cylH)"/><g stroke="#6c6f72" stroke-width="0.7" opacity="0.75"><line x1="610" x2="620" y1="252.0" y2="252.6"/><line x1="610" x2="620" y1="254.0" y2="254.6"/><line x1="610" x2="620" y1="256.0" y2="256.6"/><line x1="610" x2="620" y1="258.0" y2="258.6"/><line x1="610" x2="620" y1="260.0" y2="260.6"/><line x1="610" x2="620" y1="262.0" y2="262.6"/><line x1="610" x2="620" y1="264.0" y2="264.6"/><line x1="610" x2="620" y1="266.0" y2="266.6"/><line x1="610" x2="620" y1="268.0" y2="268.6"/><line x1="610" x2="620" y1="270.0" y2="270.6"/><line x1="610" x2="620" y1="272.0" y2="272.6"/></g><ellipse cx="614.2" cy="217.91000000000003" rx="11.5" ry="4.14" fill="#85888b"/><ellipse cx="614.2" cy="215.61" rx="11.5" ry="4.14" fill="url(#cylH)"/><path d="M605.95,207.66000000000003 L605.95,215.3 L610.4050000000001,217.5 L617.995,217.5 L622.45,215.3 L622.45,207.66000000000003 Z" fill="#8d9093"/><path d="M610.4050000000001,211.02 L610.4050000000001,217.5 L617.995,217.5 L617.995,211.02 Z" fill="#a9acae"/><path d="M605.95,207.66000000000003 L605.95,215.3 L610.4050000000001,217.5 L610.4050000000001,211.02 Z" fill="#96999c"/><path d="M605.95,207.66000000000003 L610.4050000000001,204.3 L617.995,204.3 L622.45,207.66000000000003 L617.995,211.02 L610.4050000000001,211.02 Z" fill="#c3c5c7" stroke="#8a8d90" stroke-width="0.5"/><path d="M596.0999999999999,301.9 L596.0999999999999,304.29999999999995 A16.7,5.6 0 0 0 629.5,304.29999999999995 L629.5,301.9 Z" fill="#7b7e81"/><ellipse cx="612.8" cy="301.9" rx="16.7" ry="5.6" fill="url(#flG)"/><path d="M600.3,287.9 L606.55,293.4 L606.55,303.4 L600.3,297.9 Z" fill="#96999c"/><path d="M606.55,293.4 L619.05,293.4 L619.05,303.4 L606.55,303.4 Z" fill="#b1b4b6"/><path d="M619.05,293.4 L625.3,287.9 L625.3,297.9 L619.05,303.4 Z" fill="#878a8d"/><path d="M600.3,287.9 L606.55,282.4 L619.05,282.4 L625.3,287.9 L619.05,293.4 L606.55,293.4 Z" fill="#c7c9cb" stroke="#9a9da0" stroke-width="0.4"/><ellipse cx="612.8" cy="287.9" rx="6.6" ry="3.5" fill="#64676a"/><ellipse cx="613.5999999999999" cy="288.79999999999995" rx="5.28" ry="2.275" fill="#94979a"/><path d="M609,332 L620.3,332 L620.3,386.5 Q620.3,388 618.8,388 L610.5,388 Q609,388 609,386.5 Z" fill="url(#cylH)"/><g stroke="#6c6f72" stroke-width="0.7" opacity="0.75"><line x1="609" x2="620.3" y1="350.0" y2="350.6"/><line x1="609" x2="620.3" y1="352.0" y2="352.6"/><line x1="609" x2="620.3" y1="354.0" y2="354.6"/><line x1="609" x2="620.3" y1="356.0" y2="356.6"/><line x1="609" x2="620.3" y1="358.0" y2="358.6"/><line x1="609" x2="620.3" y1="360.0" y2="360.6"/><line x1="609" x2="620.3" y1="362.0" y2="362.6"/><line x1="609" x2="620.3" y1="364.0" y2="364.6"/><line x1="609" x2="620.3" y1="366.0" y2="366.6"/><line x1="609" x2="620.3" y1="368.0" y2="368.6"/><line x1="609" x2="620.3" y1="370.0" y2="370.6"/><line x1="609" x2="620.3" y1="372.0" y2="372.6"/><line x1="609" x2="620.3" y1="374.0" y2="374.6"/><line x1="609" x2="620.3" y1="376.0" y2="376.6"/><line x1="609" x2="620.3" y1="378.0" y2="378.6"/><line x1="609" x2="620.3" y1="380.0" y2="380.6"/><line x1="609" x2="620.3" y1="382.0" y2="382.6"/><line x1="609" x2="620.3" y1="384.0" y2="384.6"/><line x1="609" x2="620.3" y1="386.0" y2="386.6"/></g><ellipse cx="614.7" cy="334.27000000000004" rx="13.0" ry="3.7800000000000002" fill="#85888b"/><ellipse cx="614.7" cy="332.17" rx="13.0" ry="3.7800000000000002" fill="url(#cylH)"/><path d="M604.45,323.08 L604.45,331.8 L609.985,334.0 L619.4150000000001,334.0 L624.95,331.8 L624.95,323.08 Z" fill="#8d9093"/><path d="M609.985,326.86 L609.985,334.0 L619.4150000000001,334.0 L619.4150000000001,326.86 Z" fill="#a9acae"/><path d="M604.45,323.08 L604.45,331.8 L609.985,334.0 L609.985,326.86 Z" fill="#96999c"/><path d="M604.45,323.08 L609.985,319.3 L619.4150000000001,319.3 L624.95,323.08 L619.4150000000001,326.86 L609.985,326.86 Z" fill="#c3c5c7" stroke="#8a8d90" stroke-width="0.5"/><path d="M582.25,422.25 L611.5,422.25 L612.25,423 L612.25,426.9 L582.25,426.9 Z" fill="#000"/><path d="M628.5,404.4 L629.3,408.9 L609.6,420.9 L605,418.5 Z" fill="#000"/><path d="M582.25,405 L589.4,409.4 L614,395.6 L628.5,404.4 L605,418.5 L611.5,422.25 L582.25,422.25 Z" fill="#fff" stroke="#000" stroke-width="0.9" stroke-linejoin="miter"/><g opacity="0.996"><text class="b" transform="translate(12,61.2) scale(1.09,1)">23</text><text class="b" transform="translate(12,100) scale(1.09,1)">21</text><text class="b" transform="translate(12,177.1) scale(1.09,1)">20</text><text class="b" transform="translate(12,253.8) scale(1.09,1)">18</text><text class="b" transform="translate(12,292) scale(1.09,1)">16</text><text class="b" transform="translate(12,330.5) scale(1.09,1)">15</text><text class="b" transform="translate(12,407) scale(1.09,1)">13</text><text class="b" transform="translate(578.8,23.2) scale(1.09,1)">12</text><text class="b" transform="translate(578.8,99) scale(1.09,1)">10</text><text class="b" transform="translate(583.3,138) scale(1.09,1)">9</text><text class="b" transform="translate(583.3,177.4) scale(1.09,1)">8</text><text class="b" transform="translate(583.3,215) scale(1.09,1)">7</text><text class="b" transform="translate(579.2,244) scale(1.09,1)">17</text><text class="b" transform="translate(583.3,292.2) scale(1.09,1)">5</text><text class="b" transform="translate(583.3,330.5) scale(1.09,1)">4</text><circle cx="263" cy="55.5" r="11.9" fill="#fff" stroke="#000" stroke-width="1.3"/><text class="b" transform="translate(263,61.05) scale(1.09,1)" text-anchor="middle">9</text><circle cx="241.8" cy="67" r="11.9" fill="#fff" stroke="#000" stroke-width="1.3"/><text class="b" transform="translate(241.8,72.55) scale(1.09,1)" text-anchor="middle">8</text><circle cx="171.3" cy="107.3" r="11.9" fill="#fff" stroke="#000" stroke-width="1.3"/><text class="b" transform="translate(171.3,112.85) scale(1.09,1)" text-anchor="middle">7</text><circle cx="274.5" cy="186" r="11.9" fill="#fff" stroke="#000" stroke-width="1.3"/><text class="b" transform="translate(274.5,191.55) scale(1.09,1)" text-anchor="middle">18</text><circle cx="300.6" cy="175.8" r="11.9" fill="#fff" stroke="#000" stroke-width="1.3"/><text class="b" transform="translate(300.6,181.35000000000002) scale(1.09,1)" text-anchor="middle">13</text><circle cx="170.5" cy="216.4" r="11.9" fill="#fff" stroke="#000" stroke-width="1.3"/><text class="b" transform="translate(170.5,221.95000000000002) scale(1.09,1)" text-anchor="middle">17</text><circle cx="466.7" cy="21.1" r="11.9" fill="#fff" stroke="#000" stroke-width="1.3"/><text class="b" transform="translate(466.7,26.650000000000002) scale(1.09,1)" text-anchor="middle">13</text><circle cx="397.9" cy="60.9" r="11.9" fill="#fff" stroke="#000" stroke-width="1.3"/><text class="b" transform="translate(397.9,66.45) scale(1.09,1)" text-anchor="middle">12</text><circle cx="399.2" cy="98.7" r="11.9" fill="#fff" stroke="#000" stroke-width="1.3"/><text class="b" transform="translate(399.2,104.25) scale(1.09,1)" text-anchor="middle">23</text><circle cx="465.2" cy="137.1" r="11.9" fill="#fff" stroke="#000" stroke-width="1.3"/><text class="b" transform="translate(465.2,142.65) scale(1.09,1)" text-anchor="middle">10</text><circle cx="131.4" cy="232.5" r="11.9" fill="#fff" stroke="#000" stroke-width="1.3"/><text class="b" transform="translate(131.4,238.05) scale(1.09,1)" text-anchor="middle">15</text><circle cx="86" cy="307.6" r="11.9" fill="#fff" stroke="#000" stroke-width="1.3"/><text class="b" transform="translate(86,313.15000000000003) scale(1.09,1)" text-anchor="middle">16</text><circle cx="220.9" cy="367.7" r="11.9" fill="#fff" stroke="#000" stroke-width="1.3"/><text class="b" transform="translate(220.9,373.25) scale(1.09,1)" text-anchor="middle">10</text><circle cx="274.1" cy="399.5" r="11.9" fill="#fff" stroke="#000" stroke-width="1.3"/><text class="b" transform="translate(274.1,405.05) scale(1.09,1)" text-anchor="middle">21</text><circle cx="312.7" cy="341.3" r="11.9" fill="#fff" stroke="#000" stroke-width="1.3"/><text class="b" transform="translate(312.7,346.85) scale(1.09,1)" text-anchor="middle">20</text><circle cx="537.2" cy="272.8" r="11.9" fill="#fff" stroke="#000" stroke-width="1.3"/><text class="b" transform="translate(537.2,278.35) scale(1.09,1)" text-anchor="middle">4</text><circle cx="437" cy="313.1" r="11.9" fill="#fff" stroke="#000" stroke-width="1.3"/><text class="b" transform="translate(437,318.65000000000003) scale(1.09,1)" text-anchor="middle">10</text><circle cx="424.1" cy="355.5" r="11.9" fill="#fff" stroke="#000" stroke-width="1.3"/><text class="b" transform="translate(424.1,361.05) scale(1.09,1)" text-anchor="middle">5</text><text class="b" transform="translate(127,66.4) scale(1.09,1)">25</text><text class="b" transform="translate(239,161.3) scale(1.09,1)">24</text><text class="b" transform="translate(339.5,66.2) scale(1.09,1)">22</text><text class="b" transform="translate(494.4,67.6) scale(1.09,1)">11</text><text class="b" transform="translate(359.6,143) scale(1.09,1)">6</text><text class="b" transform="translate(393,206.2) scale(1.09,1)">1</text><text class="b" transform="translate(156.5,374.2) scale(1.09,1)">14</text><text class="b" transform="translate(452.3,388) scale(1.09,1)">3</text><text class="b" transform="translate(500,388) scale(1.09,1)">2</text><text class="b" transform="translate(368.5,388) scale(1.09,1)">19</text><text transform="translate(590.6,442.1) scale(1.08,1)" font-size="9.7" fill="#4a4a4a">411945</text></g></svg>
</body></html>
